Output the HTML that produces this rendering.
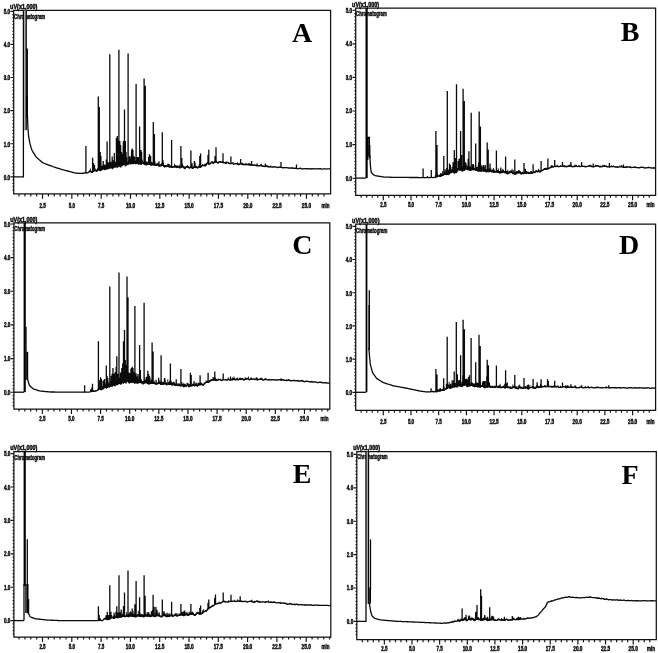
<!DOCTYPE html>
<html><head><meta charset="utf-8"><title>Chromatograms A-F</title>
<style>
html,body{margin:0;padding:0;background:#fff;}
svg{display:block}
.ax path{fill:none;stroke:#111;stroke-width:1.25}
.ax path.tk{stroke-width:1.15}
.tr{fill:none;stroke:#0a0a0a;stroke-width:1.3;stroke-linejoin:miter;stroke-miterlimit:20}
.bd{fill:#111;stroke:none}
.pk{fill:none;stroke:#0a0a0a;stroke-width:1.3}
.tr4{fill:none;stroke:#000;stroke-width:1.45}
.tr2{fill:none;stroke:#000;stroke-width:1.8}
.tr3{fill:none;stroke:#000;stroke-width:2.2}
.lb text{font-family:"Liberation Sans",sans-serif;font-size:6.7px;font-weight:bold;fill:#111;stroke:#111;stroke-width:0.5px}
.lt{font-family:"Liberation Serif",serif;font-weight:bold;font-size:28px;fill:#000}
</style></head><body>
<svg width="658" height="653" viewBox="0 0 658 653">
<rect width="658" height="653" fill="#fff"/>
<g class="ax">
<path d="M13.7 193.9V10.3H330.6V193.9H13.1" />
<path d="M13.7 190.04h-1.3M13.7 186.73h-1.3M13.7 183.42h-1.3M13.7 180.11h-1.3M13.7 176.8h-3.3M13.7 173.49h-1.3M13.7 170.18h-1.3M13.7 166.87h-1.3M13.7 163.56h-1.3M13.7 160.25h-1.3M13.7 156.94h-1.3M13.7 153.63h-1.3M13.7 150.32h-1.3M13.7 147.01h-1.3M13.7 143.7h-3.3M13.7 140.39h-1.3M13.7 137.08h-1.3M13.7 133.77h-1.3M13.7 130.46h-1.3M13.7 127.15h-1.3M13.7 123.84h-1.3M13.7 120.53h-1.3M13.7 117.22h-1.3M13.7 113.91h-1.3M13.7 110.6h-3.3M13.7 107.29h-1.3M13.7 103.98h-1.3M13.7 100.67h-1.3M13.7 97.36h-1.3M13.7 94.05h-1.3M13.7 90.74h-1.3M13.7 87.43h-1.3M13.7 84.12h-1.3M13.7 80.81h-1.3M13.7 77.5h-3.3M13.7 74.19h-1.3M13.7 70.88h-1.3M13.7 67.57h-1.3M13.7 64.26h-1.3M13.7 60.95h-1.3M13.7 57.64h-1.3M13.7 54.33h-1.3M13.7 51.02h-1.3M13.7 47.71h-1.3M13.7 44.4h-3.3M13.7 41.09h-1.3M13.7 37.78h-1.3M13.7 34.47h-1.3M13.7 31.16h-1.3M13.7 27.85h-1.3M13.7 24.54h-1.3M13.7 21.23h-1.3M13.7 17.92h-1.3M13.7 14.61h-1.3M13.7 11.3h-3.3" class="tk"/>
<path d="M19.06 193.9v2.5M24.93 193.9v2.5M30.79 193.9v2.5M36.66 193.9v2.5M42.53 193.9v4.9M48.39 193.9v2.5M54.25 193.9v2.5M60.12 193.9v2.5M65.98 193.9v2.5M71.85 193.9v4.9M77.72 193.9v2.5M83.58 193.9v2.5M89.45 193.9v2.5M95.31 193.9v2.5M101.18 193.9v4.9M107.04 193.9v2.5M112.91 193.9v2.5M118.77 193.9v2.5M124.64 193.9v2.5M130.5 193.9v4.9M136.37 193.9v2.5M142.23 193.9v2.5M148.09 193.9v2.5M153.96 193.9v2.5M159.82 193.9v4.9M165.69 193.9v2.5M171.56 193.9v2.5M177.42 193.9v2.5M183.28 193.9v2.5M189.15 193.9v4.9M195.01 193.9v2.5M200.88 193.9v2.5M206.75 193.9v2.5M212.61 193.9v2.5M218.47 193.9v4.9M224.34 193.9v2.5M230.2 193.9v2.5M236.07 193.9v2.5M241.94 193.9v2.5M247.8 193.9v4.9M253.66 193.9v2.5M259.53 193.9v2.5M265.4 193.9v2.5M271.26 193.9v2.5M277.12 193.9v4.9M282.99 193.9v2.5M288.86 193.9v2.5M294.72 193.9v2.5M300.58 193.9v2.5M306.45 193.9v4.9M312.31 193.9v2.5M318.18 193.9v2.5M324.05 193.9v2.5" class="tk"/>
</g>
<g class="lb">
<text x="10.1" y="179.65" font-size="7.9" text-anchor="end" textLength="6.4" lengthAdjust="spacingAndGlyphs">0.0</text>
<text x="10.1" y="146.55" font-size="7.9" text-anchor="end" textLength="6.4" lengthAdjust="spacingAndGlyphs">1.0</text>
<text x="10.1" y="113.45" font-size="7.9" text-anchor="end" textLength="6.4" lengthAdjust="spacingAndGlyphs">2.0</text>
<text x="10.1" y="80.35" font-size="7.9" text-anchor="end" textLength="6.4" lengthAdjust="spacingAndGlyphs">3.0</text>
<text x="10.1" y="47.25" font-size="7.9" text-anchor="end" textLength="6.4" lengthAdjust="spacingAndGlyphs">4.0</text>
<text x="10.1" y="14.15" font-size="7.9" text-anchor="end" textLength="6.4" lengthAdjust="spacingAndGlyphs">5.0</text>
<text x="42.53" y="208.05" font-size="7.96" text-anchor="middle" textLength="6.2" lengthAdjust="spacingAndGlyphs">2.5</text>
<text x="71.85" y="208.05" font-size="7.96" text-anchor="middle" textLength="6.2" lengthAdjust="spacingAndGlyphs">5.0</text>
<text x="101.18" y="208.05" font-size="7.96" text-anchor="middle" textLength="6.2" lengthAdjust="spacingAndGlyphs">7.5</text>
<text x="130.5" y="208.05" font-size="7.96" text-anchor="middle" textLength="9.2" lengthAdjust="spacingAndGlyphs">10.0</text>
<text x="159.82" y="208.05" font-size="7.96" text-anchor="middle" textLength="9.2" lengthAdjust="spacingAndGlyphs">12.5</text>
<text x="189.15" y="208.05" font-size="7.96" text-anchor="middle" textLength="9.2" lengthAdjust="spacingAndGlyphs">15.0</text>
<text x="218.47" y="208.05" font-size="7.96" text-anchor="middle" textLength="9.2" lengthAdjust="spacingAndGlyphs">17.5</text>
<text x="247.8" y="208.05" font-size="7.96" text-anchor="middle" textLength="9.2" lengthAdjust="spacingAndGlyphs">20.0</text>
<text x="277.12" y="208.05" font-size="7.96" text-anchor="middle" textLength="9.2" lengthAdjust="spacingAndGlyphs">22.5</text>
<text x="306.45" y="208.05" font-size="7.96" text-anchor="middle" textLength="9.2" lengthAdjust="spacingAndGlyphs">25.0</text>
<text x="325.4" y="208.05" font-size="7.96" text-anchor="middle" textLength="8" lengthAdjust="spacingAndGlyphs">min</text>
<text x="10.1" y="8.9" font-size="8.48" textLength="27.36" lengthAdjust="spacingAndGlyphs">uV(x1,000)</text>
<text x="14.1" y="18.91" font-size="8.25" textLength="31.12" lengthAdjust="spacingAndGlyphs">Chromatogram</text>
</g>
<rect x="23.4" y="10.5" width="2.8" height="120" fill="#b4b4b4"/><path class="tr" d="M13.7 176.8H23.4V10.5M26.2 10.5V130"/><path class="tr4" d="M27.2 48.5V112"/><path class="tr2" d="M27 96V118"/>
<path d="M84 172.76H84.9V173.3H84ZM84.85 172.52H85.75V172.84H84.85ZM85.7 172.06H86.6V172.73H85.7ZM86.55 172.56H87.45V172.99H86.55ZM87.4 172.41H88.3V172.83H87.4ZM88.25 171.39H89.15V172.54H88.25ZM89.1 171.29H90V171.99H89.1ZM89.95 168.49H90.85V171.24H89.95ZM90.8 170.85H91.7V171.8H90.8ZM91.65 172.16H92.55V172.77H91.65ZM92.5 170.84H93.4V172.18H92.5ZM93.35 169.2H94.25V171.32H93.35ZM94.2 170.11H95.1V171.13H94.2ZM95.05 169.94H95.95V171.08H95.05ZM95.9 170.35H96.8V171.46H95.9ZM96.75 169.12H97.65V171.49H96.75ZM97.6 167.98H98.5V170.41H97.6ZM98.45 168.34H99.35V170.14H98.45ZM99.3 168.31H100.2V170.84H99.3ZM100.15 168.7H101.05V171.13H100.15ZM101 167.81H101.9V170.59H101ZM101.85 167.24H102.75V170.06H101.85ZM102.7 165.69H103.6V169.16H102.7ZM103.55 164.29H104.45V169.46H103.55ZM104.4 167.08H105.3V170.23H104.4ZM105.25 166.99H106.15V169.74H105.25ZM106.1 167.43H107V169.47H106.1ZM106.95 166.31H107.85V169.53H106.95ZM107.8 166.6H108.7V169.36H107.8ZM108.65 166.7H109.55V168.7H108.65ZM109.5 164.48H110.4V168.68H109.5ZM110.35 164.97H111.25V168.42H110.35ZM111.2 165.12H112.1V168.24H111.2ZM112.05 163.03H112.95V169.29H112.05ZM112.9 163.95H113.8V168.53H112.9ZM113.75 163.92H114.65V167.92H113.75ZM114.6 162.66H115.5V167.58H114.6ZM115.45 163.71H116.35V167.74H115.45ZM116.3 162.97H117.2V167.55H116.3ZM117.15 157.55H118.05V168.05H117.15ZM118 160.78H118.9V167.08H118ZM118.85 161.58H119.75V166.81H118.85ZM119.7 161.87H120.6V167.48H119.7ZM120.55 162.68H121.45V167.48H120.55ZM121.4 163.69H122.3V166.62H121.4ZM122.25 161.19H123.15V165.97H122.25ZM123.1 161.76H124V165.14H123.1ZM123.95 160.4H124.85V165.29H123.95ZM124.8 160.95H125.7V166.41H124.8ZM125.65 162.62H126.55V166.17H125.65ZM126.5 162.06H127.4V165H126.5ZM127.35 161.75H128.25V165.13H127.35ZM128.2 160.58H129.1V164.67H128.2ZM129.05 160.94H129.95V164.13H129.05ZM129.9 158.64H130.8V164.39H129.9ZM130.75 160.88H131.65V164.51H130.75ZM131.6 159.19H132.5V164.06H131.6ZM132.45 158.99H133.35V164.15H132.45ZM133.3 161.76H134.2V164.35H133.3ZM134.15 159.92H135.05V163.82H134.15ZM135 160.42H135.9V164.13H135ZM135.85 160.38H136.75V164.2H135.85ZM136.7 159.72H137.6V163.91H136.7ZM137.55 161.49H138.45V164.3H137.55ZM138.4 159.31H139.3V164.59H138.4ZM139.25 162.24H140.15V164.21H139.25ZM140.1 162.61H141V164.77H140.1ZM140.95 160.3H141.85V164.79H140.95ZM141.8 159.85H142.7V164.1H141.8ZM142.65 161.57H143.55V163.99H142.65ZM143.5 162.03H144.4V164.39H143.5ZM144.35 160.87H145.25V164.5H144.35ZM145.2 162.64H146.1V165.25H145.2ZM146.05 161.43H146.95V165.51H146.05ZM146.9 162.67H147.8V164.7H146.9ZM147.75 161.17H148.65V164.53H147.75ZM148.6 162.9H149.5V164.88H148.6ZM149.45 159.32H150.35V164.81H149.45ZM150.3 161.57H151.2V165.1H150.3ZM151.15 162.09H152.05V165.77H151.15ZM152 162.18H152.9V165.4H152ZM152.85 163.01H153.75V165.32H152.85ZM153.7 161.41H154.6V165.55H153.7ZM154.55 161.29H155.45V165.41H154.55ZM155.4 164.18H156.3V165.57H155.4ZM156.25 163.42H157.15V165.84H156.25ZM157.1 162.79H158V165.42H157.1ZM157.95 163.32H158.85V165.47H157.95ZM158.8 164.47H159.7V166.42H158.8ZM159.65 164.45H160.55V166.37H159.65ZM160.5 163.91H161.4V166.35H160.5ZM161.35 164.38H162.25V166.1H161.35ZM162.2 161.52H163.1V165.6H162.2ZM163.05 162.44H163.95V166H163.05ZM163.9 164.91H164.8V167.16H163.9ZM164.75 165.3H165.65V167.17H164.75ZM165.6 165.24H166.5V166.78H165.6ZM166.45 165.27H167.35V166.91H166.45ZM167.3 163.67H168.2V166.73H167.3ZM168.15 163.66H169.05V166.85H168.15ZM169 164.09H169.9V167.47H169ZM169.85 165.83H170.75V167.17H169.85ZM170.7 164.9H171.6V167.23H170.7ZM171.55 166.03H172.45V167.83H171.55ZM172.4 166.61H173.3V167.63H172.4ZM173.25 166.24H174.15V167.18H173.25ZM174.1 163.76H175V167.35H174.1ZM174.95 165.02H175.85V167.31H174.95ZM175.8 165.23H176.7V167.35H175.8ZM176.65 165.97H177.55V167.78H176.65ZM177.5 165.19H178.4V167.46H177.5ZM178.35 165.94H179.25V167.14H178.35ZM179.2 164.78H180.1V168.01H179.2ZM180.05 167.24H180.95V168.25H180.05ZM180.9 166.06H181.8V167.59H180.9ZM181.75 166.05H182.65V167.3H181.75ZM182.6 165.57H183.5V166.88H182.6ZM183.45 166.2H184.35V167.43H183.45ZM184.3 166.72H185.2V168.73H184.3ZM185.15 166.81H186.05V168.58H185.15ZM186 165.96H186.9V167.47H186ZM186.85 164.99H187.75V167.29H186.85ZM187.7 166.12H188.6V167.6H187.7ZM188.55 166.6H189.45V167.81H188.55ZM189.4 167.39H190.3V168.31H189.4ZM190.25 166.34H191.15V167.86H190.25ZM191.1 165.46H192V167.36H191.1ZM191.95 166.83H192.85V168.17H191.95ZM192.8 165.64H193.7V168.55H192.8ZM193.65 167.05H194.55V167.97H193.65ZM194.5 165.93H195.4V167.79H194.5ZM195.35 165.58H196.25V167.6H195.35ZM196.2 166.34H197.1V167.56H196.2ZM197.05 166.59H197.95V168.18H197.05ZM197.9 166.84H198.8V168.06H197.9ZM198.75 165.28H199.65V167.16H198.75ZM199.6 164.88H200.5V167.41H199.6ZM200.45 166.01H201.35V167.47H200.45ZM201.3 165.55H202.2V166.57H201.3ZM202.15 163.88H203.05V166.04H202.15ZM203 164.98H203.9V165.71H203ZM203.85 164.34H204.75V165.62H203.85ZM204.7 163.5H205.6V166.21H204.7ZM205.55 164.1H206.45V165.89H205.55ZM206.4 163.49H207.3V164.26H206.4ZM207.25 162.03H208.15V163.67H207.25ZM208.1 160.72H209V164.17H208.1ZM208.95 162.9H209.85V164.26H208.95ZM209.8 163.15H210.7V164.15H209.8ZM210.65 161.99H211.55V163.55H210.65ZM211.5 161.16H212.4V162.48H211.5ZM212.35 161.1H213.25V162.82H212.35ZM213.2 162.31H214.1V163.6H213.2ZM214.05 161.42H214.95V162.96H214.05ZM214.9 161.08H215.8V162.24H214.9ZM215.75 160.58H216.65V162.27H215.75ZM216.6 161.56H217.5V162.37H216.6ZM217.45 161.95H218.35V163.08H217.45ZM218.3 161.57H219.2V163.28H218.3ZM219.15 161.01H220.05V162.28H219.15ZM220 160.98H220.9V161.9H220ZM220.85 161.8H221.75V162.45H220.85ZM221.7 161.31H222.6V162.47H221.7ZM222.55 161.23H223.45V162.52H222.55ZM223.4 162.18H224.3V162.9H223.4ZM224.25 162.03H225.15V162.9H224.25ZM225.1 161.63H226V163.16H225.1ZM225.95 161.42H226.85V163.44H225.95ZM226.8 162.17H227.7V162.69H226.8ZM227.65 161.97H228.55V162.5H227.65ZM228.5 162H229.4V163.32H228.5ZM229.35 163.26H230.25V163.68H229.35ZM230.2 163.19H231.1V163.66H230.2ZM231.05 162.99H231.95V163.64H231.05ZM231.9 162.66H232.8V163.27H231.9ZM232.75 162.22H233.65V163.52H232.75ZM233.6 163.23H234.5V164.26H233.6ZM234.45 163.6H235.35V164.01H234.45ZM235.3 162.94H236.2V163.48H235.3ZM236.15 163.36H237.05V163.75H236.15ZM237 162.26H237.9V164.11H237ZM237.85 162.94H238.75V164.48H237.85ZM238.7 164.11H239.6V164.76H238.7ZM239.55 163.63H240.45V164.13H239.55ZM240.4 162.38H241.3V163.6H240.4ZM241.25 162.95H242.15V164.14H241.25ZM242.1 162.83H243V164.51H242.1ZM242.95 163.56H243.85V164.55H242.95ZM243.8 164.03H244.7V164.8H243.8ZM244.65 163.59H245.55V164.61H244.65ZM245.5 163.29H246.4V164.39H245.5ZM246.35 163.59H247.25V164.71H246.35ZM247.2 164.16H248.1V164.66H247.2ZM248.05 163.36H248.95V164.47H248.05ZM248.9 162.81H249.8V164.92H248.9ZM249.75 163.99H250.65V165.09H249.75ZM250.6 163.21H251.5V164.93H250.6ZM251.45 164.77H252.35V165.14H251.45ZM252.3 164.49H253.2V165.16H252.3ZM253.15 164.5H254.05V165.05H253.15ZM254 164.38H254.9V165.38H254ZM254.85 164.92H255.75V165.39H254.85ZM255.7 164.81H256.6V165.15H255.7ZM256.55 165.05H257.45V165.56H256.55ZM257.4 164.95H258.3V165.94H257.4ZM258.25 165.24H259.15V165.88H258.25ZM259.1 165.31H260V165.94H259.1ZM259.95 165.5H260.85V165.78H259.95ZM260.8 163.71H261.7V165.51H260.8ZM261.65 165.02H262.55V165.96H261.65ZM262.5 165.8H263.4V166.42H262.5ZM263.35 165.54H264.25V166.38H263.35ZM264.2 166.05H265.1V166.48H264.2ZM265.05 165.99H265.95V166.46H265.05ZM265.9 165.06H266.8V166.2H265.9ZM266.75 165.43H267.65V166.45H266.75ZM267.6 165.38H268.5V166.76H267.6ZM268.45 166.15H269.35V166.71H268.45ZM269.3 166.13H270.2V166.88H269.3ZM270.15 165.42H271.05V167.02H270.15ZM271 166.33H271.9V166.83H271ZM271.85 166.7H272.75V167.02H271.85ZM272.7 166.09H273.6V167.23H272.7ZM273.55 166.28H274.45V166.99H273.55ZM274.4 166.51H275.3V166.94H274.4ZM275.25 166.53H276.15V167.09H275.25ZM276.1 166.88H277V167.12H276.1ZM276.95 167.2H277.85V167.43H276.95ZM277.8 166.83H278.7V167.64H277.8ZM278.65 166.87H279.55V167.29H278.65ZM279.5 166.76H280.4V167.13H279.5ZM280.35 166.65H281.25V167.32H280.35ZM281.2 167.16H282.1V167.38H281.2ZM282.05 166.91H282.95V167.59H282.05ZM282.9 167.6H283.8V167.82H282.9ZM283.75 167.04H284.65V167.65H283.75ZM284.6 166.98H285.5V167.65H284.6ZM285.45 167.57H286.35V167.83H285.45ZM286.3 167.47H287.2V167.7H286.3ZM287.15 167.37H288.05V167.7H287.15ZM288 167.41H288.9V167.98H288ZM288.85 167.85H289.75V168.03H288.85ZM289.7 167.83H290.6V168.07H289.7ZM290.55 167.65H291.45V168.19H290.55ZM291.4 167.5H292.3V168.06H291.4ZM292.25 167.2H293.15V168.11H292.25ZM293.1 167.87H294V168.39H293.1ZM293.95 167.99H294.85V168.3H293.95ZM294.8 167.93H295.7V168.17H294.8ZM295.65 167.66H296.55V168.37H295.65ZM296.5 168.17H297.4V168.53H296.5ZM297.35 168.48H298.25V168.7H297.35ZM298.2 168.61H299.1V168.8H298.2ZM299.05 168.18H299.95V168.52H299.05ZM299.9 167.44H300.8V168.36H299.9ZM300.75 168.35H301.65V168.66H300.75ZM301.6 168.42H302.5V168.88H301.6ZM302.45 168.46H303.35V168.88H302.45ZM303.3 168.38H304.2V168.86H303.3ZM304.15 168.32H305.05V168.69H304.15ZM305 167.94H305.9V168.66H305ZM305.85 168.63H306.75V168.91H305.85ZM306.7 168.63H307.6V168.89H306.7ZM307.55 168.34H308.45V168.73H307.55ZM308.4 168.47H309.3V168.83H308.4ZM309.25 168.54H310.15V168.94H309.25ZM310.1 168.54H311V168.96H310.1ZM310.95 168.3H311.85V169H310.95ZM311.8 168.67H312.7V168.87H311.8ZM312.65 168.58H313.55V168.75H312.65ZM313.5 168.29H314.4V168.91H313.5ZM314.35 168.65H315.25V168.96H314.35ZM315.2 168.69H316.1V168.83H315.2ZM316.05 168.32H316.95V168.89H316.05ZM316.9 168.74H317.8V168.97H316.9ZM317.75 168.73H318.65V168.96H317.75ZM318.6 168.75H319.5V168.97H318.6ZM319.45 168.67H320.35V168.82H319.45ZM320.3 168.57H321.2V168.68H320.3ZM321.15 168.7H322.05V168.88H321.15ZM322 168.96H322.9V169.08H322ZM322.85 168.88H323.75V169H322.85ZM323.7 168.63H324.6V168.89H323.7ZM324.55 168.71H325.45V168.81H324.55ZM325.4 168.68H326.3V168.79H325.4ZM326.25 168.83H327.15V168.96H326.25ZM327.1 168.8H328V169H327.1ZM327.95 168.69H328.85V168.83H327.95ZM328.8 168.66H329.7V168.82H328.8Z" class="bd"/>
<path d="M27.2 110 27.9 127.24 28.6 136.22 29.3 140.18 30 143.7 30.7 146.15 31.4 148.6 32.1 150.49 32.8 151.64 33.5 152.79 34.2 153.94 34.9 155.09 35.6 156.24 36.3 157.16 37 157.78 37.7 158.39 38.4 159.01 39.1 159.62 39.8 160.24 40.5 160.85 41.2 161.47 41.9 162.08 42.6 162.7 43.3 162.97 44 163.24 44.7 163.51 45.4 163.78 46.1 164.05 46.8 164.32 47.5 164.59 48.2 164.86 48.9 165.13 49.6 165.4 50.3 165.67 51 165.94 51.7 166.21 52.4 166.48 53.1 166.75 53.8 166.99 54.5 167.2 55.2 167.41 55.9 167.63 56.6 167.84 57.3 168.05 58 168.26 58.7 168.47 59.4 168.69 60.1 168.9 60.8 169.11 61.5 169.32 62.2 169.53 62.9 169.75 63.6 169.96 64.3 170.17 65 170.35 65.7 170.53 66.4 170.71 67.1 170.89 67.8 171.07 68.5 171.25 69.2 171.43 69.9 171.61 70.6 171.79 71.3 171.97 72 172.15 72.7 172.33 73.4 172.51 74.1 172.69 74.8 172.87 75.5 173.02 76.2 173.08 76.9 173.14 77.6 173.2 78.3 173.26 79 173.31 79.7 173.37 80.4 173.38 81.1 173.34 81.8 173.31 82.5 173.27 83.2 173.24 83.9 173.2 84.6 172.99 85.3 172.7 86 172.83 86.7 172.99 87.4 172.83 88.1 172.58 88.8 172.21 89.5 171.49 90.2 171.11 90.9 171.77 91.6 172.55 92.3 172.18 93 171.29 93.7 170.87 94.4 170.7 95.1 170.62 95.8 170.96 96.5 171.18 97.2 170.43 97.9 169.46 98.6 169.56 99.3 170.29 100 170.43 100.7 170.09 101.4 169.73 102.1 169.1 102.8 168.38 103.5 168.49 104.2 169.18 104.9 169.2 105.6 168.6 106.3 168.42 107 168.56 107.7 168.23 108.4 167.76 109.1 167.65 109.8 167.45 110.5 167.01 111.2 167.14 111.9 167.77 112.6 167.66 113.3 166.76 114 166.24 114.7 166.29 115.4 166.2 116.1 166.09 116.8 166.23 117.5 166 118.2 165.21 118.9 164.95 119.6 165.57 120.3 165.87 121 165.31 121.7 164.68 122.4 164.29 123.1 163.78 123.8 163.63 124.5 164.27 125.2 164.74 125.9 164.2 126.6 163.46 127.3 163.27 128 163.08 128.7 162.62 129.4 162.58 130.1 162.91 130.8 162.94 131.5 162.7 132.2 162.98 132.9 163.32 133.6 163.02 134.3 162.73 135 163.06 135.7 163.29 136.4 163.02 137.1 163 137.8 163.41 138.5 163.5 139.2 163.37 139.9 163.72 140.6 164.11 141.3 163.7 142 163.14 142.7 163.29 143.4 163.67 144.1 163.74 144.8 164.06 145.5 164.64 146.2 164.58 146.9 163.95 147.6 163.8 148.3 164.09 149 164.06 149.7 164.05 150.4 164.62 151.1 165.06 151.8 164.76 152.5 164.49 153.2 164.75 153.9 164.88 154.6 164.71 155.3 164.93 156 165.32 156.7 165.07 157.4 164.67 158.1 165.09 158.8 165.81 159.5 165.93 160.2 165.77 160.9 165.78 161.6 165.47 162.3 165 163 165.36 163.7 166.37 164.4 166.76 165.1 166.46 165.8 166.39 166.5 166.49 167.2 166.27 167.9 166.22 168.6 166.71 169.3 166.94 170 166.66 170.7 166.73 171.4 167.34 172.1 167.44 172.8 166.96 173.5 166.8 174.2 166.98 174.9 166.88 175.6 166.86 176.3 167.28 177 167.38 177.7 166.85 178.4 166.78 179.1 167.52 179.8 167.92 180.5 167.5 181.2 167.04 181.9 166.81 182.6 166.56 183.3 166.83 184 167.89 184.7 168.52 185.4 167.87 186.1 166.98 186.8 166.88 187.5 167.14 188.2 167.33 188.9 167.73 189.6 168 190.3 167.52 191 167.02 191.7 167.5 192.4 168.2 193.1 168.05 193.8 167.52 194.5 167.41 195.2 167.36 195.9 167.18 196.6 167.48 197.3 167.93 198 167.6 198.7 166.91 199.4 166.96 200.1 167.34 200.8 166.88 201.5 166.07 202.2 165.69 202.9 165.5 203.6 165.33 204.3 165.65 205 166.04 205.7 165.38 206.4 163.97 207.1 163.35 207.8 163.7 208.5 163.99 209.2 163.99 209.9 163.91 210.6 163.33 211.3 162.37 212 162.19 212.7 163.05 213.4 163.36 214.1 162.66 214.8 162.05 215.5 161.99 216.2 162.04 216.9 162.33 217.6 162.99 218.3 163.11 219 162.3 219.7 161.67 220.4 161.98 221.1 162.36 221.8 162.26 222.5 162.32 223.2 162.68 223.9 162.77 224.6 162.79 225.3 163.16 226 163.28 226.7 162.69 227.4 162.3 228.1 162.8 228.8 163.45 229.5 163.58 230.2 163.59 230.9 163.61 231.6 163.34 232.3 163.18 233 163.7 233.7 164.25 234.4 164.01 235.1 163.49 235.8 163.53 236.5 163.89 237.2 164.14 237.9 164.48 238.6 164.75 239.3 164.36 240 163.69 240.7 163.7 241.4 164.24 242.1 164.5 242.8 164.53 243.5 164.72 244.2 164.78 244.9 164.49 245.6 164.41 246.3 164.69 247 164.73 247.7 164.48 248.4 164.6 249.1 165.02 249.8 165.08 250.5 164.94 251.2 165.06 251.9 165.22 252.6 165.08 253.3 165.08 254 165.38 254.7 165.44 255.4 165.19 256.1 165.27 256.8 165.72 257.5 165.94 258.2 165.88 258.9 165.92 259.6 165.91 260.3 165.62 261 165.55 261.7 166 262.4 166.4 263.1 166.4 263.8 166.4 264.5 166.53 265.2 166.41 265.9 166.2 266.6 166.37 267.3 166.7 268 166.75 268.7 166.72 269.4 166.92 270.1 167.03 270.8 166.87 271.5 166.88 272.2 167.16 272.9 167.2 273.6 166.97 274.3 166.92 275 167.06 275.7 167.1 276.4 167.19 277.1 167.5 277.8 167.64 278.5 167.36 279.2 167.12 279.9 167.21 280.6 167.35 281.3 167.39 282 167.57 282.7 167.8 283.4 167.74 284.1 167.6 284.8 167.71 285.5 167.83 286.2 167.72 286.9 167.65 287.6 167.86 288.3 168.03 289 168.02 289.7 168.07 290.4 168.18 291.1 168.12 291.8 168.03 292.5 168.2 293.2 168.4 293.9 168.31 294.6 168.17 295.3 168.26 296 168.45 296.7 168.56 297.4 168.71 298.1 168.81 298.8 168.63 299.5 168.37 300.2 168.43 300.9 168.72 301.6 168.88 302.3 168.88 303 168.88 303.7 168.79 304.4 168.64 305.1 168.69 305.8 168.9 306.5 168.93 307.2 168.77 307.9 168.74 308.6 168.87 309.3 168.94 310 168.95 310.7 169 311.4 168.96 312.1 168.8 312.8 168.76 313.5 168.91 314.2 168.97 314.9 168.87 315.6 168.83 316.3 168.93 317 168.97 317.7 168.96 318.4 168.97 319.1 168.91 319.8 168.74 320.5 168.7 321.2 168.9 321.9 169.08 322.6 169.04 323.3 168.93 324 168.86 324.7 168.79 325.4 168.79 326.1 168.93 326.8 169.03 327.5 168.93 328.2 168.8 328.9 168.83 329.6 168.93 330.3 168.9 330.6 168.9" class="tr"/>
<path d="M116.4 166.44V138M117.2 166.5V136.5M118 165.74V140M119.8 166.05V141M120.6 166V145M121.5 165.13V152M122.3 164.65V154M123.2 164.02V146M124 164.05V142M125.2 165.04V144M126 164.38V152M131.6 163.01V150M132.9 163.62V150M133.8 163.19V156M134.6 163.11V157M140.4 164.36V150M141.6 163.7V152M148.6 164.43V157M149.9 164.46V155.5M150.6 165.11V156M100.2 170.65V152M100.9 170.29V156M112.2 168.16V156.5M93.5 171.24V163M94.5 170.98V165M159 166.22V161.3M85.9 173.1V146M92.6 172.08V157.7M98.3 169.67V96.6M99.3 170.59V107M107.1 168.85V141.5M109.8 167.75V54.3M114.3 166.54V153M117.3 166.45V136M118.2 165.51V142M118.9 165.25V49.8M123.4 163.92V141M124.5 164.57V109.5M125.4 164.98V141M128.1 163.32V53.4M132.2 163.28V148.5M136.1 163.46V84M139.6 163.81V126.4M141 164.26V150M144.1 164.04V78.5M145.3 164.8V85.7M149.4 164.29V154.3M153.3 165.1V122M154.4 165.05V134M162.3 165.3V132.3M171.6 167.76V140M180.9 167.5V146M181.8 167.14V158M190.9 167.34V150.5M199.8 167.54V156M200.6 167.39V153.5M208 164.12V155M208.8 164.3V149.7M215 162.29V156M216 162.33V147.3M223 162.88V153.2M230.9 163.91V156.5M240.6 163.95V158.9M251.6 165.48V161M257 166.13V163.5M261 165.85V164M265.3 166.68V163.5M281 167.67V162M296.5 168.83V164.4M90.04 171.41V170.1M92.05 172.74V171.4M94.3 171.03V167.49M95.13 170.93V168.46M97.94 169.73V168M100.57 170.46V169.13M101.98 169.53V165.86M103.37 168.69V164.33M103.93 169.23V166.34M104.58 169.62V164.93M110.83 167.26V166.05M112.71 167.85V166.77M113.19 167.21V165.5M114.17 166.53V162.48M115.44 166.49V161.96M117.6 166.21V159.51M121.02 165.58V159.94M123.63 163.89V162.24M127 163.6V161.94M129.51 162.93V156.23M129.62 162.98V160.1M130.59 163.3V160.66M135.35 163.55V162.61M137.71 163.66V157.05M138.49 163.8V157.1M140.17 164.23V163.09M141.26 164.03V160.5M141.68 163.63V158.23M144.2 164.06V163M144.89 164.44V162.96M146.04 164.97V163.22M146.95 164.22V162.37M150.08 164.61V163.18M150.71 165.2V162.86M155.24 165.2V163.72M156.72 165.35V163.66M156.75 165.33V163.5M158.95 166.2V164.89M160.22 166.07V165.08M161.58 165.78V163.34M162.86 165.5V159.91M163.18 165.91V164.64M164.18 167.05V166.13M165.19 166.72V164.97M165.59 166.66V165.6M168.17 166.67V164.24M170.62 166.98V165.76M172.38 167.57V166.62M174.38 167.28V166.06M176.98 167.68V165.7M179.38 168.09V166.83M182.33 166.94V163.72M184.39 168.69V166.75M186.21 167.2V166.23M188.59 167.83V166.66M189.2 168.22V167.07M192.02 168.18V163.29M194.37 167.7V161M195.01 167.72V162.62M199.44 167.29V164.09M200.65 167.34V165.87M97.26 170.63V169M98.14 169.65V168.27M101.22 170.13V166.04M103.2 168.61V161.05M104.97 169.45V166.4M104.98 169.44V164.76M105.13 169.32V167.88M105.96 168.72V166.04M106.37 168.73V159.48M107.1 168.85V167.21M107.33 168.78V162.15M107.83 168.43V163.26M108.16 168.19V167.18M108.75 167.97V162.24M108.89 167.96V162.64M110.85 167.27V161.72M112.95 167.54V160.89M112.99 167.49V166.18M113.23 167.16V164.46M113.65 166.7V164.35M117.78 166.01V159.54M117.85 165.93V163.39M118.14 165.57V164.06M118.47 165.28V161.65M119.15 165.41V163.68M119.31 165.57V163.99M119.42 165.68V162.78M120.38 166.14V164.31M120.45 166.11V165.18M120.81 165.81V162.54M121.98 164.82V162.99M123.22 164V160.58M123.66 163.89V162.1M124.19 164.21V160.03M124.61 164.68V160.59M125.08 165.03V163.83M125.67 164.77V160.66M125.73 164.7V162.63M126.16 164.19V157.11M128.28 163.2V161.4M130.03 163.17V157.87M130.26 163.28V160.99M130.37 163.3V157.64M131.2 163.07V155.78M132.41 163.43V159.6M133.43 163.44V160.48M133.51 163.38V160.25M136.37 163.33V162.4M136.39 163.32V157.13M136.49 163.28V157.04M137.35 163.43V157.34M139.69 163.87V160.8M142.05 163.43V160.83M144.07 164.04V155.02M144.12 164.05V162.49M144.76 164.33V158.4M144.97 164.51V163.58M145.2 164.71V161.35M146.27 164.82V162.92M146.63 164.49V162.57M146.96 164.21V162.18M147.02 164.17V161.65M149.8 164.4V162.39M112.98 167.5V160.15M113.91 166.56V162.63M114.46 166.56V161.11M116.36 166.43V165.32M116.44 166.45V159.25M118.51 165.26V161.31M119 165.3V158.65M119.17 165.43V163.58M119.36 165.62V160.91M119.67 165.94V164.32M120.65 165.96V150.32M120.95 165.67V159.26M121.39 165.22V155.31M122.12 164.75V162.89M122.87 164.25V161.54M123.03 164.14V161.6M123.35 163.94V156.2M123.48 163.9V143.6M124.03 164.07V159.2M124.55 164.62V155.33M125.99 164.39V160.02M126.53 163.81V157.13M128.15 163.28V160.42" class="pk"/>
<text class="lt" x="302" y="42.2" text-anchor="middle">A</text>
<g class="ax">
<path d="M355.7 195.3V8H655.6V195.3H355.1" />
<path d="M355.7 191.64h-1.3M355.7 188.28h-1.3M355.7 184.92h-1.3M355.7 181.56h-1.3M355.7 178.2h-3.3M355.7 174.84h-1.3M355.7 171.48h-1.3M355.7 168.12h-1.3M355.7 164.76h-1.3M355.7 161.4h-1.3M355.7 158.04h-1.3M355.7 154.68h-1.3M355.7 151.32h-1.3M355.7 147.96h-1.3M355.7 144.6h-3.3M355.7 141.24h-1.3M355.7 137.88h-1.3M355.7 134.52h-1.3M355.7 131.16h-1.3M355.7 127.8h-1.3M355.7 124.44h-1.3M355.7 121.08h-1.3M355.7 117.72h-1.3M355.7 114.36h-1.3M355.7 111h-3.3M355.7 107.64h-1.3M355.7 104.28h-1.3M355.7 100.92h-1.3M355.7 97.56h-1.3M355.7 94.2h-1.3M355.7 90.84h-1.3M355.7 87.48h-1.3M355.7 84.12h-1.3M355.7 80.76h-1.3M355.7 77.4h-3.3M355.7 74.04h-1.3M355.7 70.68h-1.3M355.7 67.32h-1.3M355.7 63.96h-1.3M355.7 60.6h-1.3M355.7 57.24h-1.3M355.7 53.88h-1.3M355.7 50.52h-1.3M355.7 47.16h-1.3M355.7 43.8h-3.3M355.7 40.44h-1.3M355.7 37.08h-1.3M355.7 33.72h-1.3M355.7 30.36h-1.3M355.7 27h-1.3M355.7 23.64h-1.3M355.7 20.28h-1.3M355.7 16.92h-1.3M355.7 13.56h-1.3M355.7 10.2h-3.3" class="tk"/>
<path d="M361.14 195.3v2.5M366.68 195.3v2.5M372.22 195.3v2.5M377.76 195.3v2.5M383.3 195.3v4.9M388.84 195.3v2.5M394.38 195.3v2.5M399.92 195.3v2.5M405.46 195.3v2.5M411 195.3v4.9M416.54 195.3v2.5M422.08 195.3v2.5M427.62 195.3v2.5M433.16 195.3v2.5M438.7 195.3v4.9M444.24 195.3v2.5M449.78 195.3v2.5M455.32 195.3v2.5M460.86 195.3v2.5M466.4 195.3v4.9M471.94 195.3v2.5M477.48 195.3v2.5M483.02 195.3v2.5M488.56 195.3v2.5M494.1 195.3v4.9M499.64 195.3v2.5M505.18 195.3v2.5M510.72 195.3v2.5M516.26 195.3v2.5M521.8 195.3v4.9M527.34 195.3v2.5M532.88 195.3v2.5M538.42 195.3v2.5M543.96 195.3v2.5M549.5 195.3v4.9M555.04 195.3v2.5M560.58 195.3v2.5M566.12 195.3v2.5M571.66 195.3v2.5M577.2 195.3v4.9M582.74 195.3v2.5M588.28 195.3v2.5M593.82 195.3v2.5M599.36 195.3v2.5M604.9 195.3v4.9M610.44 195.3v2.5M615.98 195.3v2.5M621.52 195.3v2.5M627.06 195.3v2.5M632.6 195.3v4.9M638.14 195.3v2.5M643.68 195.3v2.5M649.22 195.3v2.5" class="tk"/>
</g>
<g class="lb">
<text x="352.1" y="180.68" font-size="6.9" text-anchor="end" textLength="6.4" lengthAdjust="spacingAndGlyphs">0.0</text>
<text x="352.1" y="147.08" font-size="6.9" text-anchor="end" textLength="6.4" lengthAdjust="spacingAndGlyphs">1.0</text>
<text x="352.1" y="113.48" font-size="6.9" text-anchor="end" textLength="6.4" lengthAdjust="spacingAndGlyphs">2.0</text>
<text x="352.1" y="79.88" font-size="6.9" text-anchor="end" textLength="6.4" lengthAdjust="spacingAndGlyphs">3.0</text>
<text x="352.1" y="46.28" font-size="6.9" text-anchor="end" textLength="6.4" lengthAdjust="spacingAndGlyphs">4.0</text>
<text x="352.1" y="12.68" font-size="6.9" text-anchor="end" textLength="6.4" lengthAdjust="spacingAndGlyphs">5.0</text>
<text x="383.3" y="206.65" font-size="6.84" text-anchor="middle" textLength="6.2" lengthAdjust="spacingAndGlyphs">2.5</text>
<text x="411" y="206.65" font-size="6.84" text-anchor="middle" textLength="6.2" lengthAdjust="spacingAndGlyphs">5.0</text>
<text x="438.7" y="206.65" font-size="6.84" text-anchor="middle" textLength="6.2" lengthAdjust="spacingAndGlyphs">7.5</text>
<text x="466.4" y="206.65" font-size="6.84" text-anchor="middle" textLength="9.2" lengthAdjust="spacingAndGlyphs">10.0</text>
<text x="494.1" y="206.65" font-size="6.84" text-anchor="middle" textLength="9.2" lengthAdjust="spacingAndGlyphs">12.5</text>
<text x="521.8" y="206.65" font-size="6.84" text-anchor="middle" textLength="9.2" lengthAdjust="spacingAndGlyphs">15.0</text>
<text x="549.5" y="206.65" font-size="6.84" text-anchor="middle" textLength="9.2" lengthAdjust="spacingAndGlyphs">17.5</text>
<text x="577.2" y="206.65" font-size="6.84" text-anchor="middle" textLength="9.2" lengthAdjust="spacingAndGlyphs">20.0</text>
<text x="604.9" y="206.65" font-size="6.84" text-anchor="middle" textLength="9.2" lengthAdjust="spacingAndGlyphs">22.5</text>
<text x="632.6" y="206.65" font-size="6.84" text-anchor="middle" textLength="9.2" lengthAdjust="spacingAndGlyphs">25.0</text>
<text x="650.4" y="206.65" font-size="6.84" text-anchor="middle" textLength="8" lengthAdjust="spacingAndGlyphs">min</text>
<text x="352.1" y="6.6" font-size="7.4" textLength="27" lengthAdjust="spacingAndGlyphs">uV(x1,000)</text>
<text x="356.1" y="15.8" font-size="7.2" textLength="30.6" lengthAdjust="spacingAndGlyphs">Chromatogram</text>
</g>
<path class="tr" d="M355.7 178.1H365.9"/><path class="tr3" d="M366.6 178.1V8"/><path class="tr4" d="M367.7 160V137.4H369.3V156"/><path class="tr2" d="M369.5 145V158"/>
<path d="M430 177.25H430.9V177.62H430ZM430.85 177.18H431.75V177.42H430.85ZM431.7 177.2H432.6V177.51H431.7ZM432.55 177.25H433.45V177.64H432.55ZM433.4 176.93H434.3V177.38H433.4ZM434.25 176.98H435.15V177.53H434.25ZM435.1 175.08H436V177.72H435.1ZM435.95 175.57H436.85V177.21H435.95ZM436.8 173.22H437.7V176.9H436.8ZM437.65 175.17H438.55V177.12H437.65ZM438.5 174.7H439.4V176.54H438.5ZM439.35 174.47H440.25V176.51H439.35ZM440.2 173.26H441.1V176.83H440.2ZM441.05 173.86H441.95V176.48H441.05ZM441.9 170.9H442.8V175.82H441.9ZM442.75 174.32H443.65V175.83H442.75ZM443.6 172.07H444.5V175.29H443.6ZM444.45 168.9H445.35V174.62H444.45ZM445.3 173.18H446.2V175.12H445.3ZM446.15 168.02H447.05V175.25H446.15ZM447 168.47H447.9V174.89H447ZM447.85 172.67H448.75V175.2H447.85ZM448.7 171.96H449.6V174.76H448.7ZM449.55 169.35H450.45V173.97H449.55ZM450.4 169.88H451.3V173.37H450.4ZM451.25 169.03H452.15V173.29H451.25ZM452.1 166.67H453V172.56H452.1ZM452.95 170.44H453.85V173.04H452.95ZM453.8 165.46H454.7V173.98H453.8ZM454.65 168.71H455.55V173.57H454.65ZM455.5 170.15H456.4V173.07H455.5ZM456.35 168.73H457.25V173.14H456.35ZM457.2 168.32H458.1V171.6H457.2ZM458.05 167.24H458.95V170.57H458.05ZM458.9 158.8H459.8V170.66H458.9ZM459.75 163.81H460.65V170.74H459.75ZM460.6 165.98H461.5V170.62H460.6ZM461.45 166.16H462.35V171.85H461.45ZM462.3 166.2H463.2V171.77H462.3ZM463.15 168.4H464.05V171.07H463.15ZM464 166.72H464.9V170.95H464ZM464.85 166.56H465.75V170.34H464.85ZM465.7 164.27H466.6V169.43H465.7ZM466.55 166.3H467.45V170H466.55ZM467.4 165.54H468.3V170.53H467.4ZM468.25 161.08H469.15V170.27H468.25ZM469.1 168.24H470V170.99H469.1ZM469.95 167.27H470.85V171H469.95ZM470.8 168.34H471.7V170.76H470.8ZM471.65 164.28H472.55V170.28H471.65ZM472.5 164.54H473.4V170.6H472.5ZM473.35 165.04H474.25V170.44H473.35ZM474.2 167.69H475.1V170.12H474.2ZM475.05 164.87H475.95V170.67H475.05ZM475.9 167.62H476.8V171.01H475.9ZM476.75 166.87H477.65V170.81H476.75ZM477.6 168.4H478.5V171.63H477.6ZM478.45 168.99H479.35V171.79H478.45ZM479.3 167.39H480.2V171.38H479.3ZM480.15 168H481.05V171.58H480.15ZM481 165.15H481.9V171.82H481ZM481.85 166.79H482.75V171.15H481.85ZM482.7 169.66H483.6V171.47H482.7ZM483.55 165.68H484.45V171.62H483.55ZM484.4 169.54H485.3V171.49H484.4ZM485.25 170.15H486.15V171.81H485.25ZM486.1 169.26H487V172.51H486.1ZM486.95 169.26H487.85V172.15H486.95ZM487.8 169.7H488.7V172.1H487.8ZM488.65 168.92H489.55V172.38H488.65ZM489.5 170.01H490.4V171.89H489.5ZM490.35 167.77H491.25V171.7H490.35ZM491.2 169.63H492.1V172.22H491.2ZM492.05 169.57H492.95V172.29H492.05ZM492.9 168.06H493.8V172.44H492.9ZM493.75 169.76H494.65V172.82H493.75ZM494.6 170.72H495.5V172.74H494.6ZM495.45 171.03H496.35V172.33H495.45ZM496.3 167.98H497.2V172.4H496.3ZM497.15 170.09H498.05V172.69H497.15ZM498 168.54H498.9V172.51H498ZM498.85 171.05H499.75V173.01H498.85ZM499.7 171.03H500.6V173.54H499.7ZM500.55 170.35H501.45V173.12H500.55ZM501.4 170.58H502.3V173.04H501.4ZM502.25 168.83H503.15V173.1H502.25ZM503.1 169.82H504V172.4H503.1ZM503.95 170.88H504.85V172.43H503.95ZM504.8 171.44H505.7V173.07H504.8ZM505.65 171.67H506.55V173.4H505.65ZM506.5 171.17H507.4V173.66H506.5ZM507.35 169.63H508.25V174.26H507.35ZM508.2 172.82H509.1V173.82H508.2ZM509.05 170.96H509.95V173.13H509.05ZM509.9 170.78H510.8V173.14H509.9ZM510.75 170.4H511.65V172.87H510.75ZM511.6 168.83H512.5V172.65H511.6ZM512.45 172.23H513.35V173.46H512.45ZM513.3 173.17H514.2V174.14H513.3ZM514.15 172.45H515.05V174.14H514.15ZM515 171.95H515.9V174.53H515ZM515.85 172.27H516.75V174.31H515.85ZM516.7 171.18H517.6V173.38H516.7ZM517.55 171.11H518.45V173.06H517.55ZM518.4 169.98H519.3V173.27H518.4ZM519.25 171H520.15V173.03H519.25ZM520.1 171.13H521V173.47H520.1ZM520.95 173.21H521.85V174.2H520.95ZM521.8 171.72H522.7V174.06H521.8ZM522.65 171.72H523.55V173.85H522.65ZM523.5 172.88H524.4V174.06H523.5ZM524.35 172.37H525.25V173.55H524.35ZM525.2 170H526.1V173.08H525.2ZM526.05 171.73H526.95V173.54H526.05ZM526.9 171.77H527.8V173.41H526.9ZM527.75 171.41H528.65V173.22H527.75ZM528.6 172.3H529.5V173.57H528.6ZM529.45 172.5H530.35V173.7H529.45ZM530.3 171.24H531.2V173.28H530.3ZM531.15 171.62H532.05V173.39H531.15ZM532 172H532.9V173.56H532ZM532.85 171.23H533.75V172.95H532.85ZM533.7 171.43H534.6V172.84H533.7ZM534.55 171.73H535.45V172.85H534.55ZM535.4 169.71H536.3V172.05H535.4ZM536.25 170.3H537.15V171.75H536.25ZM537.1 170.57H538V172.05H537.1ZM537.95 168.87H538.85V171.77H537.95ZM538.8 169.85H539.7V171.78H538.8ZM539.65 170.74H540.55V172.2H539.65ZM540.5 170.26H541.4V171.78H540.5ZM541.35 170.34H542.25V171.04H541.35ZM542.2 170.17H543.1V170.88H542.2ZM543.05 169.5H543.95V170.22H543.05ZM543.9 167.92H544.8V169.49H543.9ZM544.75 167.95H545.65V169.62H544.75ZM545.6 167.6H546.5V169.54H545.6ZM546.45 168.37H547.35V169.12H546.45ZM547.3 167.92H548.2V169.19H547.3ZM548.15 168.08H549.05V169.02H548.15ZM549 167.61H549.9V168.21H549ZM549.85 166.7H550.75V167.93H549.85ZM550.7 165.16H551.6V167.81H550.7ZM551.55 164.99H552.45V167.2H551.55ZM552.4 165.85H553.3V167.04H552.4ZM553.25 166.44H554.15V167.14H553.25ZM554.1 165.44H555V166.63H554.1ZM554.95 165.59H555.85V166.3H554.95ZM555.8 166.2H556.7V166.59H555.8ZM556.65 164.73H557.55V166.44H556.65ZM557.5 165.56H558.4V166.34H557.5ZM558.35 166.03H559.25V166.7H558.35ZM559.2 165.99H560.1V166.61H559.2ZM560.05 165.31H560.95V166.29H560.05ZM560.9 165.91H561.8V166.42H560.9ZM561.75 164.8H562.65V166.3H561.75ZM562.6 165.31H563.5V165.98H562.6ZM563.45 165.75H564.35V166.28H563.45ZM564.3 164.89H565.2V166.56H564.3ZM565.15 165.79H566.05V166.45H565.15ZM566 165.82H566.9V166.67H566ZM566.85 166.49H567.75V166.79H566.85ZM567.7 165.28H568.6V166.33H567.7ZM568.55 165.56H569.45V166.17H568.55ZM569.4 164.24H570.3V166.31H569.4ZM570.25 164.98H571.15V166.11H570.25ZM571.1 165.57H572V166.21H571.1ZM571.95 166.15H572.85V166.67H571.95ZM572.8 166.18H573.7V166.6H572.8ZM573.65 165.83H574.55V166.43H573.65ZM574.5 164.51H575.4V166.58H574.5ZM575.35 164.9H576.25V166.35H575.35ZM576.2 164.69H577.1V166.08H576.2ZM577.05 165.9H577.95V166.39H577.05ZM577.9 165.6H578.8V166.52H577.9ZM578.75 165.29H579.65V166.38H578.75ZM579.6 166.24H580.5V166.59H579.6ZM580.45 166H581.35V166.57H580.45ZM581.3 165.06H582.2V166.13H581.3ZM582.15 165.68H583.05V166.16H582.15ZM583 165.99H583.9V166.36H583ZM583.85 166H584.75V166.26H583.85ZM584.7 165.86H585.6V166.53H584.7ZM585.55 166.6H586.45V166.9H585.55ZM586.4 166.06H587.3V166.63H586.4ZM587.25 165.88H588.15V166.38H587.25ZM588.1 165.34H589V166.35H588.1ZM588.95 165.14H589.85V165.98H588.95ZM589.8 164.8H590.7V165.86H589.8ZM590.65 164.77H591.55V166.34H590.65ZM591.5 165.89H592.4V166.57H591.5ZM592.35 166.16H593.25V166.65H592.35ZM593.2 166.62H594.1V166.97H593.2ZM594.05 166.1H594.95V166.8H594.05ZM594.9 164.8H595.8V166.24H594.9ZM595.75 165.11H596.65V166.12H595.75ZM596.6 165.17H597.5V166.04H596.6ZM597.45 164.96H598.35V165.86H597.45ZM598.3 165.52H599.2V166.25H598.3ZM599.15 165.79H600.05V166.71H599.15ZM600 165.55H600.9V166.68H600ZM600.85 165.68H601.75V166.79H600.85ZM601.7 166.24H602.6V166.86H601.7ZM602.55 164.67H603.45V166.41H602.55ZM603.4 165.49H604.3V166.18H603.4ZM604.25 164.66H605.15V166.33H604.25ZM605.1 165.95H606V166.23H605.1ZM605.95 165.42H606.85V166.31H605.95ZM606.8 166.07H607.7V166.77H606.8ZM607.65 166.07H608.55V166.84H607.65ZM608.5 166.55H609.4V166.77H608.5ZM609.35 166.12H610.25V166.99H609.35ZM610.2 166.52H611.1V166.89H610.2ZM611.05 165.29H611.95V166.57H611.05ZM611.9 166.14H612.8V166.66H611.9ZM612.75 165.27H613.65V166.66H612.75ZM613.6 165.94H614.5V166.46H613.6ZM614.45 166.39H615.35V166.7H614.45ZM615.3 166.42H616.2V166.99H615.3ZM616.15 166.29H617.05V166.95H616.15ZM617 166.35H617.9V167.12H617ZM617.85 166.92H618.75V167.29H617.85ZM618.7 166.62H619.6V167H618.7ZM619.55 165.31H620.45V166.84H619.55ZM620.4 166.65H621.3V166.91H620.4ZM621.25 165.09H622.15V166.75H621.25ZM622.1 166.18H623V166.78H622.1ZM622.95 166.74H623.85V167.19H622.95ZM623.8 167.06H624.7V167.29H623.8ZM624.65 166.18H625.55V167.27H624.65ZM625.5 166.66H626.4V167.43H625.5ZM626.35 166.12H627.25V167.27H626.35ZM627.2 166.75H628.1V166.95H627.2ZM628.05 166.8H628.95V167.05H628.05ZM628.9 166.4H629.8V167.15H628.9ZM629.75 165.92H630.65V167.12H629.75ZM630.6 166.67H631.5V167.42H630.6ZM631.45 167.29H632.35V167.62H631.45ZM632.3 167.01H633.2V167.42H632.3ZM633.15 166.69H634.05V167.36H633.15ZM634 166.7H634.9V167.37H634ZM634.85 166.38H635.75V167.16H634.85ZM635.7 166.83H636.6V167.23H635.7ZM636.55 167.1H637.45V167.56H636.55ZM637.4 167.08H638.3V167.62H637.4ZM638.25 167.13H639.15V167.66H638.25ZM639.1 167.54H640V167.79H639.1ZM639.95 167.38H640.85V167.58H639.95ZM640.8 166.42H641.7V167.34H640.8ZM641.65 166.89H642.55V167.43H641.65ZM642.5 167.28H643.4V167.47H642.5ZM643.35 166.51H644.25V167.52H643.35ZM644.2 167.38H645.1V167.85H644.2ZM645.05 167.6H645.95V168H645.05ZM645.9 167.36H646.8V167.87H645.9ZM646.75 167.07H647.65V167.85H646.75ZM647.6 166.88H648.5V167.76H647.6ZM648.45 166.53H649.35V167.53H648.45ZM649.3 167.13H650.2V167.58H649.3ZM650.15 167.35H651.05V167.78H650.15ZM651 167.46H651.9V167.84H651ZM651.85 167.67H652.75V168H651.85ZM652.7 167.36H653.6V168.18H652.7ZM653.55 167.38H654.45V168.07H653.55Z" class="bd"/>
<path d="M369.8 155 370.5 167 371.2 172.25 371.9 173.12 372.6 174 373.3 174.66 374 175.05 374.7 175.43 375.4 175.67 376.1 175.78 376.8 175.9 377.5 176.01 378.2 176.13 378.9 176.24 379.6 176.36 380.3 176.47 381 176.59 381.7 176.7 382.4 176.82 383.1 176.93 383.8 177.01 384.5 177.03 385.2 177.06 385.9 177.08 386.6 177.11 387.3 177.13 388 177.16 388.7 177.18 389.4 177.21 390.1 177.23 390.8 177.25 391.5 177.28 392.2 177.3 392.9 177.33 393.6 177.35 394.3 177.38 395 177.4 395.7 177.4 396.4 177.41 397.1 177.41 397.8 177.41 398.5 177.42 399.2 177.42 399.9 177.43 400.6 177.43 401.3 177.43 402 177.44 402.7 177.44 403.4 177.44 404.1 177.45 404.8 177.45 405.5 177.46 406.2 177.46 406.9 177.46 407.6 177.47 408.3 177.47 409 177.47 409.7 177.48 410.4 177.48 411.1 177.48 411.8 177.49 412.5 177.49 413.2 177.5 413.9 177.5 414.6 177.5 415.3 177.51 416 177.51 416.7 177.51 417.4 177.52 418.1 177.52 418.8 177.53 419.5 177.53 420.2 177.53 420.9 177.54 421.6 177.54 422.3 177.54 423 177.55 423.7 177.55 424.4 177.55 425.1 177.56 425.8 177.56 426.5 177.57 427.2 177.57 427.9 177.57 428.6 177.58 429.3 177.58 430 177.58 430.7 177.45 431.4 177.43 432.1 177.62 432.8 177.59 433.5 177.31 434.2 177.38 434.9 177.57 435.6 177.17 436.3 176.64 437 176.63 437.7 176.65 438.4 176.21 439.1 175.92 439.8 176.19 440.5 176.25 441.2 175.72 441.9 175.28 442.6 175.24 443.3 174.91 444 174.21 444.7 173.97 445.4 174.29 446.1 174.32 446.8 174.02 447.5 174.02 448.2 174.13 448.9 173.55 449.6 172.61 450.3 172.14 451 171.98 451.7 171.55 452.4 171.29 453.1 171.75 453.8 172.27 454.5 172.12 455.2 171.73 455.9 171.56 456.6 171.05 457.3 169.94 458 169.13 458.7 169.08 459.4 169.12 460.1 168.98 460.8 169.41 461.5 170.18 462.2 170.37 462.9 169.87 463.6 169.5 464.3 169.3 465 168.67 465.7 168.03 466.4 168.12 467.1 168.66 467.8 168.86 468.5 168.96 469.2 169.48 469.9 169.87 470.6 169.64 471.3 169.27 472 169.37 472.7 169.44 473.4 169.09 474.1 169 474.8 169.54 475.5 169.93 476.2 169.87 476.9 170.04 477.6 170.61 478.3 170.79 479 170.51 479.7 170.55 480.4 170.89 481.1 170.77 481.8 170.37 482.5 170.47 483.2 170.87 483.9 170.85 484.6 170.71 485.3 171.11 486 171.6 486.7 171.49 487.4 171.25 488.1 171.46 488.8 171.59 489.5 171.22 490.2 171.02 490.9 171.44 491.6 171.79 492.3 171.68 493 171.76 493.7 172.22 494.4 172.27 495.1 171.81 495.8 171.67 496.5 171.97 497.2 172.01 497.9 171.85 498.6 172.22 499.3 172.87 500 172.94 500.7 172.6 501.4 172.6 502.1 172.64 502.8 172.18 503.5 171.77 504.2 172.11 504.9 172.67 505.6 172.82 506.3 173.02 507 173.58 507.7 173.77 508.4 173.21 509.1 172.69 509.8 172.65 510.5 172.5 511.2 172.16 511.9 172.4 512.6 173.23 513.3 173.72 514 173.72 514.7 173.9 515.4 174.1 516.1 173.64 516.8 172.87 517.5 172.67 518.2 172.86 518.9 172.76 519.6 172.71 520.3 173.26 521 173.82 521.7 173.71 522.4 173.46 523.1 173.6 523.8 173.59 524.5 173.07 525.2 172.78 525.9 173.08 526.6 173.23 527.3 172.94 528 172.94 528.7 173.34 529.4 173.4 530.1 173.05 530.8 172.99 531.5 173.28 532.2 173.12 532.9 172.64 533.6 172.56 534.3 172.63 535 172.17 535.7 171.57 536.4 171.57 537.1 171.78 537.8 171.57 538.5 171.41 539.2 171.77 539.9 171.99 540.6 171.45 541.3 170.88 542 170.72 542.7 170.37 543.4 169.63 544.1 169.26 544.8 169.46 545.5 169.44 546.2 169.06 546.9 168.96 547.6 169.1 548.3 168.77 549 168.09 549.7 167.8 550.4 167.79 551.1 167.44 551.8 166.98 552.5 166.98 553.2 167.07 553.9 166.71 554.6 166.29 555.3 166.37 556 166.57 556.7 166.38 557.4 166.29 558.1 166.58 558.8 166.73 559.5 166.46 560.2 166.29 560.9 166.42 561.6 166.36 562.3 166.05 563 166.05 563.7 166.41 564.4 166.56 565.1 166.45 565.8 166.58 566.5 166.82 567.2 166.63 567.9 166.23 568.6 166.18 569.3 166.31 570 166.18 570.7 166.08 571.4 166.39 572.1 166.71 572.8 166.6 573.5 166.43 574.2 166.53 574.9 166.54 575.6 166.22 576.3 166.09 577 166.37 577.7 166.54 578.4 166.41 579.1 166.43 579.8 166.64 580.5 166.55 581.2 166.17 581.9 166.09 582.6 166.3 583.3 166.33 584 166.27 584.7 166.53 585.4 166.87 586.1 166.77 586.8 166.46 587.5 166.38 588.2 166.33 588.9 166 589.6 165.81 590.3 166.12 591 166.49 591.7 166.57 592.4 166.67 593.1 166.95 593.8 166.93 594.5 166.48 595.2 166.14 595.9 166.13 596.6 166.04 597.3 165.86 598 166.05 598.7 166.53 599.4 166.74 600.1 166.68 600.8 166.78 601.5 166.89 602.2 166.63 602.9 166.24 603.6 166.21 604.3 166.34 605 166.25 605.7 166.23 606.4 166.55 607.1 166.86 607.8 166.82 608.5 166.77 609.2 166.96 609.9 166.99 610.6 166.71 611.3 166.56 612 166.68 612.7 166.67 613.4 166.48 614.1 166.55 614.8 166.87 615.5 167 616.2 166.95 616.9 167.08 617.6 167.29 618.3 167.17 619 166.89 619.7 166.85 620.4 166.91 621.1 166.78 621.8 166.71 622.5 166.97 623.2 167.27 623.9 167.28 624.6 167.26 625.3 167.4 626 167.4 626.7 167.11 627.4 166.94 628.1 167.06 628.8 167.15 629.5 167.11 630.2 167.25 630.9 167.54 631.6 167.6 632.3 167.42 633 167.35 633.7 167.39 634.4 167.27 635.1 167.13 635.8 167.27 636.5 167.55 637.2 167.62 637.9 167.61 638.6 167.73 639.3 167.77 640 167.56 640.7 167.35 641.4 167.38 642.1 167.47 642.8 167.46 643.5 167.57 644.2 167.85 644.9 168.01 645.6 167.92 646.3 167.85 647 167.85 647.7 167.73 648.4 167.54 649.1 167.54 649.8 167.71 650.5 167.82 651.2 167.86 651.9 168.02 652.6 168.17 653.3 168.13 654 167.99 654.7 167.97 655.4 167.99 655.6 168" class="tr"/>
<path d="M423.1 177.85V168.6M427.5 177.87V176M431.3 177.72V170M435.9 177.2V131M437 176.93V145M443.8 174.7V156M447.3 174.28V91M449.5 173.02V163.5M454.3 172.52V150M455.3 172V158M456.5 171.46V84.2M460.6 169.52V131M461.6 170.56V155M463.1 170.02V88.8M464.3 169.6V101M468.2 169.18V158.7M471.2 169.59V112.7M475.7 170.24V143.6M479.2 170.76V111.5M480.4 171.19V126.6M483.2 171.17V165M485.2 171.33V165M487.2 171.58V142.4M488.2 171.8V149.5M496.4 172.23V150.5M505.6 173.12V156.4M514.8 174.25V159.6M524 173.77V163M533.1 172.86V164.2M541.1 171.3V161M547.9 169.34V158.6M554.7 166.57V160M562.5 166.29V162M570.9 166.42V162M581.6 166.37V162M593.2 167.27V163.5M609.4 167.3V163M623.4 167.6V164.5M436.14 177.02V175.61M436.52 176.89V173.36M440.98 176.22V173.25M445.73 174.67V171.7M446.11 174.62V170.09M446.97 174.28V172.5M447.22 174.27V170.29M448.53 174.26V169.54M452.09 171.63V170.13M452.09 171.63V169.85M454.45 172.45V171.29M454.87 172.19V171.04M461.87 170.69V167.97M461.89 170.7V168.38M462.39 170.57V169.14M462.63 170.4V166.06M462.87 170.2V168.06M465.82 168.28V164.28M467.11 168.97V166.73M467.24 169.04V166.95M469.01 169.61V166.76M469.06 169.65V165.56M470.21 170.14V166.59M470.67 169.89V166.24M473.36 169.41V163.91M478.35 171.07V169.78M479.93 170.98V168.4M480.61 171.22V170.21M480.67 171.22V167.7M480.71 171.22V170.03M484.2 171.05V166.86M485.3 171.42V169.1M485.43 171.52V170.48M485.61 171.67V168.95M486 171.9V170.81M494.07 172.64V169.85M498.21 172.23V171.15M498.96 172.88V170.88M500.78 172.88V167.38M504.35 172.55V170.97M506.92 173.82V170.89M507.42 174.1V171.79M509.07 173V171.16M510.29 172.89V170.74M510.79 172.65V170.76M511.15 172.47V171.31M512.79 173.72V171.9M513.17 173.98V169.9M514.34 174.06V172.63M514.35 174.07V172.74M514.67 174.19V172.44M515.36 174.41V171.9M516.52 173.44V171.07M517 173.04V171.4M518.48 173.16V170.57M518.96 173.04V170.33M521.23 174.16V172.34M525.38 173.12V168.74M526.19 173.5V172.22M526.39 173.54V170.89M529.47 173.67V172.53M530.78 173.28V171.33M533.92 172.93V171.5M535.13 172.34V171.33M445.75 174.68V169.9M446.53 174.43V170.31M447 174.27V170.82M447.19 174.27V170.49M448.45 174.32V173.25M448.78 174V173.1M449.43 173.11V171.38M450.16 172.49V169.51M450.37 172.43V165.12M450.37 172.43V170.57M450.62 172.38V170.5M450.71 172.36V166.72M452.41 171.59V170.05M453.08 172.03V162.2M454.39 172.48V170.55M455.68 171.91V168.53M456.73 171.16V168.38M459.16 169.44V158.81M459.88 169.3V167.7M461.69 170.62V167.82M463.19 169.97V163.01M463.55 169.81V167.82M463.75 169.76V168.43M466.51 168.5V166.76M469.01 169.61V161.95M469.71 170.13V168.93M472.75 169.72V167.36M473.17 169.52V168.07M476.36 170.16V167.83M476.62 170.21V167.96M476.72 170.25V167.03M477.17 170.55V169.21M478.34 171.08V165.52M478.35 171.07V168.49M478.6 170.98V162.47M479.77 170.89V169.74M483.47 171.22V169.88M484.19 171.05V168.82M484.98 171.16V168.09M487.13 171.6V170.23M487.72 171.6V170.07M487.99 171.71V169.14M488.47 171.89V170.25M489.52 171.51V168.53M489.55 171.49V170.32M490.02 171.31V163.56M453.82 172.57V168.73M453.84 172.58V165.5M454.3 172.52V168.36M455.33 171.99V167.19M455.88 171.87V160.64M456.28 171.67V169.13M457.87 169.52V168.23M458.17 169.36V161.09M458.22 169.35V160.91M459.21 169.44V166.58M459.49 169.4V162.27M461.51 170.48V169.49M462.05 170.7V166.82M462.62 170.4V168.29M462.76 170.28V166.02M464.37 169.56V161.56M465.68 168.34V163.14M465.7 168.33V162.26M468.91 169.52V151.22M471.45 169.55V168.14" class="pk"/>
<text class="lt" x="630" y="40.8" text-anchor="middle">B</text>
<g class="ax">
<path d="M13.9 409.1V222.9H329.8V409.1H13.3" />
<path d="M13.9 405.66h-1.3M13.9 402.29h-1.3M13.9 398.93h-1.3M13.9 395.56h-1.3M13.9 392.2h-3.3M13.9 388.83h-1.3M13.9 385.47h-1.3M13.9 382.11h-1.3M13.9 378.74h-1.3M13.9 375.38h-1.3M13.9 372.01h-1.3M13.9 368.64h-1.3M13.9 365.28h-1.3M13.9 361.91h-1.3M13.9 358.55h-3.3M13.9 355.19h-1.3M13.9 351.82h-1.3M13.9 348.45h-1.3M13.9 345.09h-1.3M13.9 341.72h-1.3M13.9 338.36h-1.3M13.9 335h-1.3M13.9 331.63h-1.3M13.9 328.26h-1.3M13.9 324.9h-3.3M13.9 321.53h-1.3M13.9 318.17h-1.3M13.9 314.81h-1.3M13.9 311.44h-1.3M13.9 308.07h-1.3M13.9 304.71h-1.3M13.9 301.35h-1.3M13.9 297.98h-1.3M13.9 294.62h-1.3M13.9 291.25h-3.3M13.9 287.88h-1.3M13.9 284.52h-1.3M13.9 281.15h-1.3M13.9 277.79h-1.3M13.9 274.42h-1.3M13.9 271.06h-1.3M13.9 267.69h-1.3M13.9 264.33h-1.3M13.9 260.97h-1.3M13.9 257.6h-3.3M13.9 254.24h-1.3M13.9 250.87h-1.3M13.9 247.5h-1.3M13.9 244.14h-1.3M13.9 240.77h-1.3M13.9 237.41h-1.3M13.9 234.04h-1.3M13.9 230.68h-1.3M13.9 227.31h-1.3M13.9 223.95h-3.3" class="tk"/>
<path d="M19.02 409.1v2.5M24.85 409.1v2.5M30.68 409.1v2.5M36.5 409.1v2.5M42.33 409.1v4.9M48.15 409.1v2.5M53.97 409.1v2.5M59.8 409.1v2.5M65.62 409.1v2.5M71.45 409.1v4.9M77.28 409.1v2.5M83.1 409.1v2.5M88.93 409.1v2.5M94.75 409.1v2.5M100.58 409.1v4.9M106.4 409.1v2.5M112.23 409.1v2.5M118.05 409.1v2.5M123.88 409.1v2.5M129.7 409.1v4.9M135.53 409.1v2.5M141.35 409.1v2.5M147.17 409.1v2.5M153 409.1v2.5M158.82 409.1v4.9M164.65 409.1v2.5M170.47 409.1v2.5M176.3 409.1v2.5M182.12 409.1v2.5M187.95 409.1v4.9M193.78 409.1v2.5M199.6 409.1v2.5M205.42 409.1v2.5M211.25 409.1v2.5M217.07 409.1v4.9M222.9 409.1v2.5M228.72 409.1v2.5M234.55 409.1v2.5M240.38 409.1v2.5M246.2 409.1v4.9M252.03 409.1v2.5M257.85 409.1v2.5M263.68 409.1v2.5M269.5 409.1v2.5M275.32 409.1v4.9M281.15 409.1v2.5M286.98 409.1v2.5M292.8 409.1v2.5M298.62 409.1v2.5M304.45 409.1v4.9M310.27 409.1v2.5M316.1 409.1v2.5M321.93 409.1v2.5M327.75 409.1v2.5" class="tk"/>
</g>
<g class="lb">
<text x="10.3" y="394.77" font-size="7.15" text-anchor="end" textLength="6.4" lengthAdjust="spacingAndGlyphs">0.0</text>
<text x="10.3" y="361.12" font-size="7.15" text-anchor="end" textLength="6.4" lengthAdjust="spacingAndGlyphs">1.0</text>
<text x="10.3" y="327.47" font-size="7.15" text-anchor="end" textLength="6.4" lengthAdjust="spacingAndGlyphs">2.0</text>
<text x="10.3" y="293.82" font-size="7.15" text-anchor="end" textLength="6.4" lengthAdjust="spacingAndGlyphs">3.0</text>
<text x="10.3" y="260.17" font-size="7.15" text-anchor="end" textLength="6.4" lengthAdjust="spacingAndGlyphs">4.0</text>
<text x="10.3" y="226.52" font-size="7.15" text-anchor="end" textLength="6.4" lengthAdjust="spacingAndGlyphs">5.0</text>
<text x="42.33" y="421.05" font-size="7.12" text-anchor="middle" textLength="6.2" lengthAdjust="spacingAndGlyphs">2.5</text>
<text x="71.45" y="421.05" font-size="7.12" text-anchor="middle" textLength="6.2" lengthAdjust="spacingAndGlyphs">5.0</text>
<text x="100.58" y="421.05" font-size="7.12" text-anchor="middle" textLength="6.2" lengthAdjust="spacingAndGlyphs">7.5</text>
<text x="129.7" y="421.05" font-size="7.12" text-anchor="middle" textLength="9.2" lengthAdjust="spacingAndGlyphs">10.0</text>
<text x="158.82" y="421.05" font-size="7.12" text-anchor="middle" textLength="9.2" lengthAdjust="spacingAndGlyphs">12.5</text>
<text x="187.95" y="421.05" font-size="7.12" text-anchor="middle" textLength="9.2" lengthAdjust="spacingAndGlyphs">15.0</text>
<text x="217.07" y="421.05" font-size="7.12" text-anchor="middle" textLength="9.2" lengthAdjust="spacingAndGlyphs">17.5</text>
<text x="246.2" y="421.05" font-size="7.12" text-anchor="middle" textLength="9.2" lengthAdjust="spacingAndGlyphs">20.0</text>
<text x="275.32" y="421.05" font-size="7.12" text-anchor="middle" textLength="9.2" lengthAdjust="spacingAndGlyphs">22.5</text>
<text x="304.45" y="421.05" font-size="7.12" text-anchor="middle" textLength="9.2" lengthAdjust="spacingAndGlyphs">25.0</text>
<text x="324.6" y="421.05" font-size="7.12" text-anchor="middle" textLength="8" lengthAdjust="spacingAndGlyphs">min</text>
<text x="10.3" y="221.5" font-size="7.67" textLength="27.09" lengthAdjust="spacingAndGlyphs">uV(x1,000)</text>
<text x="14.3" y="230.9" font-size="7.46" textLength="30.73" lengthAdjust="spacingAndGlyphs">Chromatogram</text>
</g>
<path class="tr" d="M13.9 392.2H24"/><path class="tr3" d="M24.7 392.2V222.9"/><path class="tr" d="M26 326.7V380"/><path class="tr2" d="M27.3 351.8V379"/>
<path d="M90 391.51H90.9V391.86H90ZM90.85 391.07H91.75V391.59H90.85ZM91.7 391.08H92.6V391.36H91.7ZM92.55 390.41H93.45V391.3H92.55ZM93.4 390.41H94.3V391.26H93.4ZM94.25 390.9H95.15V391.3H94.25ZM95.1 390.29H96V391.39H95.1ZM95.95 390.51H96.85V391.19H95.95ZM96.8 390.08H97.7V390.91H96.8ZM97.65 389.37H98.55V390.49H97.65ZM98.5 388.09H99.4V389.69H98.5ZM99.35 387.35H100.25V389.4H99.35ZM100.2 386.76H101.1V389.87H100.2ZM101.05 387.74H101.95V390.16H101.05ZM101.9 385.96H102.8V389.77H101.9ZM102.75 386.8H103.65V389.32H102.75ZM103.6 386.33H104.5V388.67H103.6ZM104.45 386.17H105.35V387.72H104.45ZM105.3 384.4H106.2V387.89H105.3ZM106.15 386.04H107.05V388.77H106.15ZM107 385.44H107.9V388.04H107ZM107.85 383.55H108.75V387.62H107.85ZM108.7 385.55H109.6V387.84H108.7ZM109.55 384.94H110.45V387.15H109.55ZM110.4 382.17H111.3V386.45H110.4ZM111.25 382.37H112.15V386.75H111.25ZM112.1 384.59H113V386.68H112.1ZM112.95 378.96H113.85V385.63H112.95ZM113.8 377.39H114.7V386.12H113.8ZM114.65 383.7H115.55V386.57H114.65ZM115.5 380.16H116.4V385.59H115.5ZM116.35 381.28H117.25V385.24H116.35ZM117.2 381.5H118.1V385.31H117.2ZM118.05 374.25H118.95V384.58H118.05ZM118.9 377.87H119.8V384.03H118.9ZM119.75 380.1H120.65V384.81H119.75ZM120.6 378.06H121.5V384.78H120.6ZM121.45 378.12H122.35V383.65H121.45ZM122.3 378.61H123.2V383.31H122.3ZM123.15 378.29H124.05V384.1H123.15ZM124 377.94H124.9V383.01H124ZM124.85 373.94H125.75V383.13H124.85ZM125.7 379.45H126.6V383.7H125.7ZM126.55 378.43H127.45V382.15H126.55ZM127.4 376.82H128.3V381.62H127.4ZM128.25 379.66H129.15V383.32H128.25ZM129.1 378.91H130V383.75H129.1ZM129.95 376.79H130.85V382.83H129.95ZM130.8 375.61H131.7V383.11H130.8ZM131.65 380.02H132.55V383.27H131.65ZM132.5 377.32H133.4V382.39H132.5ZM133.35 379.41H134.25V382.79H133.35ZM134.2 377.48H135.1V383.88H134.2ZM135.05 380.97H135.95V383.4H135.05ZM135.9 378.85H136.8V383.12H135.9ZM136.75 381.31H137.65V383.87H136.75ZM137.6 379.32H138.5V383.85H137.6ZM138.45 376.27H139.35V383.27H138.45ZM139.3 380.33H140.2V383.1H139.3ZM140.15 380.51H141.05V383.27H140.15ZM141 379.22H141.9V382.83H141ZM141.85 381.87H142.75V383.7H141.85ZM142.7 381.34H143.6V384.54H142.7ZM143.55 381.02H144.45V384.05H143.55ZM144.4 377.23H145.3V383.38H144.4ZM145.25 379.61H146.15V383.18H145.25ZM146.1 381.3H147V383.13H146.1ZM146.95 379.37H147.85V383.5H146.95ZM147.8 381.52H148.7V384.23H147.8ZM148.65 379.81H149.55V384.49H148.65ZM149.5 380.56H150.4V384.25H149.5ZM150.35 381.4H151.25V383.82H150.35ZM151.2 380.25H152.1V383.73H151.2ZM152.05 382.35H152.95V383.85H152.05ZM152.9 381.62H153.8V383.97H152.9ZM153.75 380.63H154.65V383.88H153.75ZM154.6 382.13H155.5V384.27H154.6ZM155.45 382.78H156.35V384.62H155.45ZM156.3 382.16H157.2V384.68H156.3ZM157.15 382.42H158.05V384.33H157.15ZM158 382.42H158.9V384.15H158ZM158.85 380.51H159.75V383.7H158.85ZM159.7 382.09H160.6V383.88H159.7ZM160.55 380.27H161.45V384.65H160.55ZM161.4 381.51H162.3V384.98H161.4ZM162.25 382.62H163.15V384.75H162.25ZM163.1 381.85H164V384.64H163.1ZM163.95 382.54H164.85V384.51H163.95ZM164.8 379.13H165.7V384.02H164.8ZM165.65 382.64H166.55V384.5H165.65ZM166.5 384.09H167.4V385.27H166.5ZM167.35 379.23H168.25V384.75H167.35ZM168.2 382.58H169.1V384.53H168.2ZM169.05 380.73H169.95V385.08H169.05ZM169.9 382.19H170.8V385.11H169.9ZM170.75 380.65H171.65V384.92H170.75ZM171.6 382.11H172.5V385.33H171.6ZM172.45 382.51H173.35V385.47H172.45ZM173.3 381.82H174.2V384.64H173.3ZM174.15 382.28H175.05V385.2H174.15ZM175 383.61H175.9V386.07H175ZM175.85 384.42H176.75V385.66H175.85ZM176.7 383.06H177.6V385.29H176.7ZM177.55 384.53H178.45V386.2H177.55ZM178.4 382.95H179.3V385.81H178.4ZM179.25 383.63H180.15V385.65H179.25ZM180.1 384.92H181V386.42H180.1ZM180.95 383.65H181.85V386.31H180.95ZM181.8 383.71H182.7V385.4H181.8ZM182.65 382.61H183.55V386.19H182.65ZM183.5 383.97H184.4V387.13H183.5ZM184.35 384.99H185.25V386.76H184.35ZM185.2 383.64H186.1V386.45H185.2ZM186.05 385.42H186.95V386.72H186.05ZM186.9 383.9H187.8V385.76H186.9ZM187.75 383.33H188.65V385.55H187.75ZM188.6 384.2H189.5V386.68H188.6ZM189.45 384.5H190.35V387.04H189.45ZM190.3 384.55H191.2V386.18H190.3ZM191.15 384.84H192.05V386.23H191.15ZM192 383.67H192.9V386.19H192ZM192.85 383.73H193.75V385.41H192.85ZM193.7 384.23H194.6V385.65H193.7ZM194.55 382.48H195.45V386.34H194.55ZM195.4 383.49H196.3V385.8H195.4ZM196.25 382.6H197.15V385.83H196.25ZM197.1 384.5H198V386.41H197.1ZM197.95 383.79H198.85V386.12H197.95ZM198.8 383.1H199.7V385.25H198.8ZM199.65 383.33H200.55V385.18H199.65ZM200.5 382H201.4V385.03H200.5ZM201.35 382.89H202.25V384.72H201.35ZM202.2 384.34H203.1V385.28H202.2ZM203.05 384.34H203.95V385.48H203.05ZM203.9 382.45H204.8V384.51H203.9ZM204.75 382.54H205.65V383.57H204.75ZM205.6 380.25H206.5V383.1H205.6ZM206.45 381.29H207.35V382.72H206.45ZM207.3 380.46H208.2V382.71H207.3ZM208.15 381.47H209.05V382.83H208.15ZM209 380.12H209.9V382.31H209ZM209.85 379.78H210.75V381.52H209.85ZM210.7 379.02H211.6V381.06H210.7ZM211.55 379.31H212.45V380.58H211.55ZM212.4 377.26H213.3V380.36H212.4ZM213.25 377.13H214.15V380.27H213.25ZM214.1 377.63H215V380.17H214.1ZM214.95 377.57H215.85V380.41H214.95ZM215.8 378.89H216.7V380.71H215.8ZM216.65 378.81H217.55V380.59H216.65ZM217.5 379.63H218.4V380.26H217.5ZM218.35 378.45H219.25V380.11H218.35ZM219.2 379.06H220.1V379.76H219.2ZM220.05 378.86H220.95V379.86H220.05ZM220.9 379.8H221.8V380.51H220.9ZM221.75 379.47H222.65V380.55H221.75ZM222.6 379.17H223.5V379.97H222.6ZM223.45 379.38H224.35V379.93H223.45ZM224.3 379.56H225.2V380.06H224.3ZM225.15 378.69H226.05V379.84H225.15ZM226 379.26H226.9V380.08H226ZM226.85 379.46H227.75V380.39H226.85ZM227.7 377.24H228.6V379.72H227.7ZM228.55 378.66H229.45V379.38H228.55ZM229.4 379.13H230.3V380.07H229.4ZM230.25 378.01H231.15V380.17H230.25ZM231.1 378.85H232V379.73H231.1ZM231.95 377.46H232.85V380H231.95ZM232.8 377.69H233.7V379.9H232.8ZM233.65 376.55H234.55V379.22H233.65ZM234.5 378.35H235.4V379.51H234.5ZM235.35 378.71H236.25V380.14H235.35ZM236.2 378.25H237.1V379.59H236.2ZM237.05 377.44H237.95V379.37H237.05ZM237.9 379.46H238.8V379.99H237.9ZM238.75 377.71H239.65V379.8H238.75ZM239.6 378.7H240.5V379.27H239.6ZM240.45 377.94H241.35V379.58H240.45ZM241.3 378.15H242.2V379.43H241.3ZM242.15 378.31H243.05V378.81H242.15ZM243 378.59H243.9V379.44H243ZM243.85 379.02H244.75V380.19H243.85ZM244.7 377.12H245.6V379.64H244.7ZM245.55 378.51H246.45V379.19H245.55ZM246.4 378.04H247.3V379.28H246.4ZM247.25 377.79H248.15V378.8H247.25ZM248.1 376.51H249V378.73H248.1ZM248.95 378.76H249.85V379.64H248.95ZM249.8 378.89H250.7V379.78H249.8ZM250.65 377.24H251.55V379.18H250.65ZM251.5 378.53H252.4V379.27H251.5ZM252.35 378.91H253.25V379.39H252.35ZM253.2 378.67H254.1V378.94H253.2ZM254.05 378.47H254.95V379.05H254.05ZM254.9 378.74H255.8V379.52H254.9ZM255.75 377.21H256.65V379.39H255.75ZM256.6 377.58H257.5V379.43H256.6ZM257.45 379.01H258.35V379.93H257.45ZM258.3 379.49H259.2V379.76H258.3ZM259.15 378.64H260.05V379.19H259.15ZM260 378.16H260.9V379.19H260ZM260.85 377.72H261.75V379.38H260.85ZM261.7 377.63H262.6V379.52H261.7ZM262.55 379.27H263.45V379.96H262.55ZM263.4 379.76H264.3V380.17H263.4ZM264.25 379H265.15V379.74H264.25ZM265.1 378.93H266V379.41H265.1ZM265.95 378.6H266.85V379.52H265.95ZM266.8 379.46H267.7V379.7H266.8ZM267.65 379.29H268.55V379.87H267.65ZM268.5 378.76H269.4V380.01H268.5ZM269.35 379.48H270.25V379.96H269.35ZM270.2 379.04H271.1V379.88H270.2ZM271.05 379.29H271.95V379.92H271.05ZM271.9 379.34H272.8V379.94H271.9ZM272.75 379.01H273.65V379.92H272.75ZM273.6 379.62H274.5V379.85H273.6ZM274.45 379.05H275.35V379.78H274.45ZM275.3 379.52H276.2V379.96H275.3ZM276.15 379.81H277.05V380.18H276.15ZM277 379.39H277.9V380.07H277ZM277.85 379.39H278.75V379.91H277.85ZM278.7 379.17H279.6V379.95H278.7ZM279.55 379.31H280.45V379.89H279.55ZM280.4 378.31H281.3V379.93H280.4ZM281.25 378.63H282.15V380.26H281.25ZM282.1 379.31H283V380.23H282.1ZM282.95 379.31H283.85V379.91H282.95ZM283.8 379.85H284.7V380.08H283.8ZM284.65 379.7H285.55V380.4H284.65ZM285.5 380.1H286.4V380.33H285.5ZM286.35 379.36H287.25V380.37H286.35ZM287.2 380.29H288.1V380.5H287.2ZM288.05 379.6H288.95V380.17H288.05ZM288.9 379.19H289.8V380.09H288.9ZM289.75 380.34H290.65V380.64H289.75ZM290.6 380.61H291.5V380.8H290.6ZM291.45 379.95H292.35V380.55H291.45ZM292.3 379.95H293.2V380.69H292.3ZM293.15 379.64H294.05V380.74H293.15ZM294 379.8H294.9V380.42H294ZM294.85 380.12H295.75V380.6H294.85ZM295.7 380.75H296.6V380.98H295.7ZM296.55 380.59H297.45V380.76H296.55ZM297.4 379.63H298.3V380.74H297.4ZM298.25 380.6H299.15V381.21H298.25ZM299.1 380.8H300V381.16H299.1ZM299.95 380.13H300.85V380.81H299.95ZM300.8 380.43H301.7V380.97H300.8ZM301.65 379.76H302.55V381.02H301.65ZM302.5 380.3H303.4V380.88H302.5ZM303.35 380.97H304.25V381.34H303.35ZM304.2 381.6H305.1V381.81H304.2ZM305.05 381.23H305.95V381.5H305.05ZM305.9 380.83H306.8V381.25H305.9ZM306.75 381.14H307.65V381.42H306.75ZM307.6 380.82H308.5V381.36H307.6ZM308.45 381.09H309.35V381.41H308.45ZM309.3 381.34H310.2V381.91H309.3ZM310.15 381.79H311.05V382.02H310.15ZM311 380.8H311.9V381.75H311ZM311.85 381.6H312.75V381.86H311.85ZM312.7 381.55H313.6V382.03H312.7ZM313.55 381.62H314.45V381.84H313.55ZM314.4 381.5H315.3V381.89H314.4ZM315.25 381.94H316.15V382.17H315.25ZM316.1 382.01H317V382.2H316.1ZM316.95 381.97H317.85V382.28H316.95ZM317.8 382.09H318.7V382.56H317.8ZM318.65 381.76H319.55V382.49H318.65ZM319.5 382.08H320.4V382.23H319.5ZM320.35 381.87H321.25V382.31H320.35ZM321.2 381.61H322.1V382.53H321.2ZM322.05 382.21H322.95V382.66H322.05ZM322.9 382.47H323.8V382.84H322.9ZM323.75 382.69H324.65V382.92H323.75ZM324.6 382.32H325.5V382.77H324.6ZM325.45 382.33H326.35V382.73H325.45ZM326.3 382.65H327.2V382.9H326.3ZM327.15 382.75H328.05V383.04H327.15ZM328 382.73H328.9V383.1H328Z" class="bd"/>
<path d="M27.3 378.6 28 380.47 28.7 382.95 29.4 385.39 30.1 386.02 30.8 386.65 31.5 387.29 32.2 387.92 32.9 388.55 33.6 389.06 34.3 389.27 35 389.48 35.7 389.7 36.4 389.91 37.1 390.12 37.8 390.33 38.5 390.55 39.2 390.76 39.9 390.97 40.6 391.06 41.3 391.13 42 391.2 42.7 391.27 43.4 391.34 44.1 391.41 44.8 391.48 45.5 391.55 46.2 391.62 46.9 391.69 47.6 391.76 48.3 391.83 49 391.9 49.7 391.97 50.4 392 51.1 392.01 51.8 392.01 52.5 392.01 53.2 392.02 53.9 392.02 54.6 392.02 55.3 392.03 56 392.03 56.7 392.04 57.4 392.04 58.1 392.04 58.8 392.05 59.5 392.05 60.2 392.05 60.9 392.06 61.6 392.06 62.3 392.06 63 392.07 63.7 392.07 64.4 392.08 65.1 392.08 65.8 392.08 66.5 392.09 67.2 392.09 67.9 392.09 68.6 392.1 69.3 392.1 70 392.11 70.7 392.11 71.4 392.11 72.1 392.12 72.8 392.12 73.5 392.12 74.2 392.13 74.9 392.13 75.6 392.13 76.3 392.14 77 392.14 77.7 392.15 78.4 392.15 79.1 392.15 79.8 392.16 80.5 392.16 81.2 392.16 81.9 392.17 82.6 392.17 83.3 392.18 84 392.18 84.7 392.18 85.4 392.19 86.1 392.19 86.8 392.19 87.5 392.2 88.2 392.17 88.9 392.05 89.6 391.93 90.3 391.77 91 391.54 91.7 391.36 92.4 391.3 93.1 391.28 93.8 391.23 94.5 391.23 95.2 391.22 95.9 391.01 96.6 390.7 97.3 390.36 98 389.81 98.7 389.16 99.4 388.97 100.1 389.37 100.8 389.66 101.5 389.42 102.2 389.01 102.9 388.67 103.6 388.01 104.3 387.19 105 387.04 105.7 387.6 106.4 387.76 107.1 387.15 107.8 386.67 108.5 386.71 109.2 386.46 109.9 385.74 110.6 385.48 111.3 385.82 112 385.62 112.7 384.7 113.4 384.37 114.1 384.92 114.8 385.02 115.5 384.22 116.2 383.69 116.9 383.87 117.6 383.63 118.3 382.79 119 382.6 119.7 383.23 120.4 383.23 121.1 382.21 121.8 381.65 122.5 382.13 123.2 382.32 123.9 381.74 124.6 381.5 125.3 381.85 126 381.53 126.7 380.41 127.4 380.19 128.1 381.24 128.8 381.95 129.5 381.66 130.2 381.49 130.9 381.89 131.6 381.86 132.3 381.22 133 381.21 133.7 382.07 134.4 382.54 135.1 382.17 135.8 382.05 136.5 382.64 137.2 382.9 137.9 382.44 138.6 382.12 139.3 382.31 140 382.31 140.7 382.02 141.4 382.29 142.1 383.18 142.8 383.65 143.5 383.28 144.2 382.73 144.9 382.49 145.6 382.35 146.3 382.32 147 382.74 147.7 383.44 148.4 383.76 149.1 383.56 149.8 383.26 150.5 383.1 151.2 383.03 151.9 383.04 152.6 383.15 153.3 383.23 154 383.31 154.7 383.55 155.4 383.83 156.1 383.89 156.8 383.77 157.5 383.65 158.2 383.43 158.9 383.08 159.6 383.12 160.3 383.78 161 384.39 161.7 384.32 162.4 383.97 163.1 383.92 163.8 383.86 164.5 383.52 165.2 383.54 165.9 384.26 166.6 384.7 167.3 384.25 168 383.83 168.7 384.22 169.4 384.66 170.1 384.44 170.8 384.28 171.5 384.75 172.2 384.98 172.9 384.4 173.6 384.12 174.3 384.88 175 385.54 175.7 385.15 176.4 384.72 177.1 385.17 177.8 385.61 178.5 385.22 179.2 384.98 179.9 385.62 180.6 385.99 181.3 385.32 182 384.88 182.7 385.67 183.4 386.54 184.1 386.35 184.8 385.94 185.5 386.11 186.2 386.07 186.9 385.26 187.6 384.89 188.3 385.77 189 386.62 189.7 386.29 190.4 385.69 191.1 385.78 191.8 385.85 192.5 385.24 193.2 384.85 193.9 385.36 194.6 385.83 195.3 385.49 196 385.21 196.7 385.68 197.4 386.05 198.1 385.56 198.8 384.88 199.5 384.78 200.2 384.79 200.9 384.45 201.6 384.42 202.3 384.93 203 385.14 203.7 384.47 204.4 383.51 205.1 382.95 205.8 382.62 206.5 382.37 207.2 382.34 207.9 382.46 208.6 382.31 209.3 381.75 210 381.15 210.7 380.73 211.4 380.38 212.1 380.08 212.8 380.07 213.5 379.98 214.2 379.93 214.9 380.14 215.6 380.47 216.3 380.5 217 380.24 217.7 380.04 218.4 379.9 219.1 379.65 219.8 379.58 220.5 380.04 221.2 380.52 221.9 380.33 222.6 379.81 223.3 379.73 224 379.94 224.7 379.85 225.4 379.7 226.1 380.02 226.8 380.28 227.5 379.81 228.2 379.24 228.9 379.5 229.6 380.1 230.3 380.06 231 379.68 231.7 379.78 232.4 379.99 233.1 379.55 233.8 379.07 234.5 379.44 235.2 380.02 235.9 379.79 236.6 379.25 237.3 379.47 238 379.98 238.7 379.77 239.4 379.26 240.1 379.36 240.8 379.61 241.5 379.2 242.2 378.77 242.9 379.27 243.6 380.07 244.3 379.98 245 379.35 245.7 379.19 246.4 379.26 247.1 378.9 247.8 378.6 248.5 379.12 249.2 379.82 249.9 379.71 250.6 379.2 251.3 379.19 252 379.43 252.7 379.22 253.4 378.88 254.1 379.08 254.8 379.49 255.5 379.47 256.2 379.32 256.9 379.61 257.6 379.97 258.3 379.76 259 379.26 259.7 379.12 260.4 379.3 261.1 379.41 261.8 379.56 262.5 379.93 263.2 380.18 263.9 379.96 264.6 379.55 265.3 379.41 266 379.53 266.7 379.68 267.4 379.82 268.1 379.96 268.8 380.01 269.5 379.94 270.2 379.88 270.9 379.91 271.6 379.94 272.3 379.93 273 379.9 273.7 379.84 274.4 379.78 275.1 379.9 275.8 380.12 276.5 380.18 277.2 380.02 277.9 379.91 278.6 379.94 279.3 379.92 280 379.86 280.7 380.04 281.4 380.29 282.1 380.23 282.8 379.95 283.5 379.96 284.2 380.27 284.9 380.41 285.6 380.32 286.3 380.36 287 380.5 287.7 380.34 288.4 380.05 289.1 380.19 289.8 380.67 290.5 380.82 291.2 380.6 291.9 380.58 292.6 380.77 293.3 380.69 294 380.42 294.7 380.52 295.4 380.9 296.1 380.93 296.8 380.69 297.5 380.79 298.2 381.19 298.9 381.24 299.6 380.91 300.3 380.83 301 381.02 301.7 381.01 302.4 380.87 303.1 381.14 303.8 381.67 304.5 381.77 305.2 381.41 305.9 381.25 306.6 381.39 307.3 381.41 308 381.32 308.7 381.54 309.4 381.96 310.1 382.04 310.8 381.8 311.5 381.76 312.2 381.98 312.9 382 313.6 381.83 314.3 381.86 315 382.1 315.7 382.22 316.4 382.19 317.1 382.33 317.8 382.56 318.5 382.53 319.2 382.29 319.9 382.22 320.6 382.38 321.3 382.55 322 382.65 322.7 382.79 323.4 382.92 324.1 382.87 324.8 382.74 325.5 382.74 326.2 382.88 326.9 383.01 327.6 383.07 328.3 383.12 329 383.14 329.7 383.19 329.8 383.2" class="tr"/>
<path d="M121.8 381.95V368M126 381.83V365M131.4 382.26V368M133 381.51V368M133.8 382.49V372M147.8 383.82V375M149.4 383.72V376M140.4 382.43V370M101.4 389.77V379M99.2 389.25V380M107 387.55V376M107.8 386.97V378M112.1 385.81V374M112.9 384.8V373M115.6 384.39V372M113.9 385.04V374M84.6 392.48V385.2M92.5 391.6V383.8M98.4 389.72V341.3M100.6 389.93V377.2M106.3 388.1V365.5M109.8 386.14V286.5M111.3 386.12V376M114.8 385.32V372.7M116.8 384.14V356.3M119 382.9V272.6M122.7 382.57V363.5M123.5 382.42V341.2M124.5 381.78V330M125.3 382.15V360M127 380.38V276.4M128 381.37V297.3M132.2 381.61V366.8M134.9 382.61V306M139.6 382.67V345M144.1 383.09V302.7M148.6 384.04V374M152.1 383.37V342.5M153.1 383.52V351.5M161.1 384.73V355.2M170.4 384.6V363.5M180.9 386.09V369M190.4 385.99V372.7M191.2 386.12V375M200.1 385.12V375.2M208.1 382.76V372.7M214.8 380.39V371.5M223.2 380.01V373.5M230.5 380.24V376.5M240.2 379.71V377.7M251.1 379.43V377.7M257 379.97V378M261.1 379.71V378M265.3 379.71V378M90.69 391.94V389.19M91.94 391.63V387.2M92.89 391.59V390.58M99.81 389.47V386.79M100.03 389.62V388.1M101.16 389.89V388.94M103.38 388.57V387.49M103.8 388.07V386.54M106.22 388.11V386.13M106.53 387.99V386.49M107.36 387.2V383.99M113.77 384.92V382.64M113.96 385.09V383.85M114 385.13V383.29M115.61 384.38V382.89M119.24 383.09V381.52M120.21 383.66V382.5M122.24 382.2V377.85M122.96 382.67V380.84M123.03 382.67V380.67M124.18 381.84V375.94M126.64 380.8V378.95M126.67 380.76V379.59M126.94 380.43V378.08M127.64 380.78V377.61M127.74 380.93V379.79M128.62 382.18V378.87M130.52 381.95V378.86M130.89 382.18V381.13M131.38 382.27V378.95M135.41 382.32V381.09M136.4 382.84V381.78M136.91 383.2V381.73M140.31 382.47V380.53M141.12 382.37V380.73M144.92 382.79V380.37M147.23 383.27V380.73M147.78 383.8V382.79M147.9 383.89V382.18M148.82 383.98V383.04M148.84 383.97V380.76M152.83 383.49V377.59M153.53 383.55V382.33M156.08 384.2V379.67M158.62 383.51V377.84M160.83 384.6V382.63M161.17 384.74V383.8M161.37 384.74V382.37M162.21 384.34V381.93M164.51 383.81V377.91M166.64 385V382.4M168.54 384.38V382.19M168.82 384.63V383.31M169.67 384.94V382.99M173.16 384.48V383.35M176.23 385.05V379.15M179.68 385.67V384.73M181.28 385.64V382.11M183.32 386.8V385.58M184.5 386.35V383.8M184.6 386.3V384.48M187.27 385.21V382.77M188.81 386.79V385.58M189.03 386.93V384.45M189.48 386.8V384.24M193.44 385.24V384.23M194.01 385.77V381.36M198.21 385.74V383.14M198.38 385.55V382.79M202.75 385.46V383.66M203.22 385.31V383.9M207.31 382.65V380.89M100.58 389.92V380.94M101.01 389.94V383.06M102.36 389.24V388.18M102.58 389.14V387.73M102.79 389.03V385.9M103.02 388.88V386.85M103.13 388.8V380.79M103.47 388.47V386.21M104.14 387.65V379.84M104.56 387.32V379.03M105.1 387.4V384.67M106.11 388.11V387.16M106.12 388.11V382.67M106.26 388.1V385.75M107.26 387.29V384.39M107.56 387.06V384.43M108.18 386.97V381.76M108.27 386.98V384.05M108.49 387.01V385.67M109.63 386.32V383.76M110.26 385.8V380.93M112.14 385.76V383.59M112.86 384.83V382.27M113.42 384.68V380.6M113.88 385.02V382.28M114.38 385.39V376M115.3 384.77V377.78M117.5 384.03V382.76M118.13 383.29V373.81M119.64 383.48V381.31M119.7 383.53V382.35M119.75 383.57V379.73M120.93 382.77V375.2M121.06 382.57V378.24M123.54 382.38V371.11M123.73 382.2V372.15M124.12 381.87V379.43M127.65 380.8V374.78M127.79 381.01V378.9M128.35 381.91V380.29M128.52 382.1V380.57M130.12 381.77V379.61M130.14 381.77V380.18M130.89 382.18V379.59M130.94 382.21V369.11M132.13 381.67V369.96M132.22 381.59V380.3M132.25 381.56V376.43M132.91 381.44V373.39M134.23 382.82V381.56M134.35 382.84V374.49M135 382.54V378.38M135.97 382.46V380.39M136.03 382.5V373.29M136.8 383.15V377.68M136.87 383.18V376.68M136.92 383.2V376.54M137.39 383.12V381.5M138.01 382.65V373.99M138.83 382.45V381.28M138.95 382.49V381.47M139.24 382.59V381.13M140.34 382.46V381.06M140.87 382.31V381.38M142.44 383.82V380.95M142.6 383.91V381.55M146.01 382.59V380.48M146.54 382.7V376.64M146.92 382.97V380.41M147.82 383.83V370.73M148.14 384.01V377.99M149.08 383.87V380.33M149.48 383.68V382.02M149.58 383.64V379.02M149.88 383.54V377.35M151.45 383.32V379.47M112.28 385.58V383.89M112.57 385.18V381.8M112.71 385V381.74M112.96 384.75V368.12M115.96 384.07V379.81M116.19 384V366.84M116.5 384.04V381.53M116.5 384.04V381.33M117.04 384.19V380.4M117.23 384.17V380.36M117.23 384.17V382.34M117.31 384.14V381.29M117.65 383.89V382.26M118.38 383.01V378.94M119.54 383.39V377.73M120.59 383.31V372.45M121 382.67V380.39M124.48 381.77V380.67M125.56 382.17V376.71M125.59 382.16V372.84M127.45 380.54V375.3M128.55 382.13V373.46M128.68 382.21V378.2M129.26 382.11V372.81M130.62 382.01V372.96" class="pk"/>
<text class="lt" x="302.4" y="254.4" text-anchor="middle">C</text>
<g class="ax">
<path d="M355.7 410.3V224.2H655.6V410.3H355.1" />
<path d="M355.7 405.58h-1.3M355.7 402.26h-1.3M355.7 398.94h-1.3M355.7 395.62h-1.3M355.7 392.3h-3.3M355.7 388.98h-1.3M355.7 385.66h-1.3M355.7 382.34h-1.3M355.7 379.02h-1.3M355.7 375.7h-1.3M355.7 372.38h-1.3M355.7 369.06h-1.3M355.7 365.74h-1.3M355.7 362.42h-1.3M355.7 359.1h-3.3M355.7 355.78h-1.3M355.7 352.46h-1.3M355.7 349.14h-1.3M355.7 345.82h-1.3M355.7 342.5h-1.3M355.7 339.18h-1.3M355.7 335.86h-1.3M355.7 332.54h-1.3M355.7 329.22h-1.3M355.7 325.9h-3.3M355.7 322.58h-1.3M355.7 319.26h-1.3M355.7 315.94h-1.3M355.7 312.62h-1.3M355.7 309.3h-1.3M355.7 305.98h-1.3M355.7 302.66h-1.3M355.7 299.34h-1.3M355.7 296.02h-1.3M355.7 292.7h-3.3M355.7 289.38h-1.3M355.7 286.06h-1.3M355.7 282.74h-1.3M355.7 279.42h-1.3M355.7 276.1h-1.3M355.7 272.78h-1.3M355.7 269.46h-1.3M355.7 266.14h-1.3M355.7 262.82h-1.3M355.7 259.5h-3.3M355.7 256.18h-1.3M355.7 252.86h-1.3M355.7 249.54h-1.3M355.7 246.22h-1.3M355.7 242.9h-1.3M355.7 239.58h-1.3M355.7 236.26h-1.3M355.7 232.94h-1.3M355.7 229.62h-1.3M355.7 226.3h-3.3" class="tk"/>
<path d="M361.14 410.3v2.5M366.68 410.3v2.5M372.22 410.3v2.5M377.76 410.3v2.5M383.3 410.3v4.9M388.84 410.3v2.5M394.38 410.3v2.5M399.92 410.3v2.5M405.46 410.3v2.5M411 410.3v4.9M416.54 410.3v2.5M422.08 410.3v2.5M427.62 410.3v2.5M433.16 410.3v2.5M438.7 410.3v4.9M444.24 410.3v2.5M449.78 410.3v2.5M455.32 410.3v2.5M460.86 410.3v2.5M466.4 410.3v4.9M471.94 410.3v2.5M477.48 410.3v2.5M483.02 410.3v2.5M488.56 410.3v2.5M494.1 410.3v4.9M499.64 410.3v2.5M505.18 410.3v2.5M510.72 410.3v2.5M516.26 410.3v2.5M521.8 410.3v4.9M527.34 410.3v2.5M532.88 410.3v2.5M538.42 410.3v2.5M543.96 410.3v2.5M549.5 410.3v4.9M555.04 410.3v2.5M560.58 410.3v2.5M566.12 410.3v2.5M571.66 410.3v2.5M577.2 410.3v4.9M582.74 410.3v2.5M588.28 410.3v2.5M593.82 410.3v2.5M599.36 410.3v2.5M604.9 410.3v4.9M610.44 410.3v2.5M615.98 410.3v2.5M621.52 410.3v2.5M627.06 410.3v2.5M632.6 410.3v4.9M638.14 410.3v2.5M643.68 410.3v2.5M649.22 410.3v2.5" class="tk"/>
</g>
<g class="lb">
<text x="352.1" y="395.19" font-size="8.03" text-anchor="end" textLength="6.4" lengthAdjust="spacingAndGlyphs">0.0</text>
<text x="352.1" y="361.99" font-size="8.03" text-anchor="end" textLength="6.4" lengthAdjust="spacingAndGlyphs">1.0</text>
<text x="352.1" y="328.79" font-size="8.03" text-anchor="end" textLength="6.4" lengthAdjust="spacingAndGlyphs">2.0</text>
<text x="352.1" y="295.59" font-size="8.03" text-anchor="end" textLength="6.4" lengthAdjust="spacingAndGlyphs">3.0</text>
<text x="352.1" y="262.39" font-size="8.03" text-anchor="end" textLength="6.4" lengthAdjust="spacingAndGlyphs">4.0</text>
<text x="352.1" y="229.19" font-size="8.03" text-anchor="end" textLength="6.4" lengthAdjust="spacingAndGlyphs">5.0</text>
<text x="383.3" y="424.3" font-size="8.1" text-anchor="middle" textLength="6.2" lengthAdjust="spacingAndGlyphs">2.5</text>
<text x="411" y="424.3" font-size="8.1" text-anchor="middle" textLength="6.2" lengthAdjust="spacingAndGlyphs">5.0</text>
<text x="438.7" y="424.3" font-size="8.1" text-anchor="middle" textLength="6.2" lengthAdjust="spacingAndGlyphs">7.5</text>
<text x="466.4" y="424.3" font-size="8.1" text-anchor="middle" textLength="9.2" lengthAdjust="spacingAndGlyphs">10.0</text>
<text x="494.1" y="424.3" font-size="8.1" text-anchor="middle" textLength="9.2" lengthAdjust="spacingAndGlyphs">12.5</text>
<text x="521.8" y="424.3" font-size="8.1" text-anchor="middle" textLength="9.2" lengthAdjust="spacingAndGlyphs">15.0</text>
<text x="549.5" y="424.3" font-size="8.1" text-anchor="middle" textLength="9.2" lengthAdjust="spacingAndGlyphs">17.5</text>
<text x="577.2" y="424.3" font-size="8.1" text-anchor="middle" textLength="9.2" lengthAdjust="spacingAndGlyphs">20.0</text>
<text x="604.9" y="424.3" font-size="8.1" text-anchor="middle" textLength="9.2" lengthAdjust="spacingAndGlyphs">22.5</text>
<text x="632.6" y="424.3" font-size="8.1" text-anchor="middle" textLength="9.2" lengthAdjust="spacingAndGlyphs">25.0</text>
<text x="650.4" y="424.3" font-size="8.1" text-anchor="middle" textLength="8" lengthAdjust="spacingAndGlyphs">min</text>
<text x="352.1" y="222.8" font-size="8.61" textLength="27.41" lengthAdjust="spacingAndGlyphs">uV(x1,000)</text>
<text x="356.1" y="232.92" font-size="8.38" textLength="31.19" lengthAdjust="spacingAndGlyphs">Chromatogram</text>
</g>
<path class="tr" d="M355.7 392.3H365.9"/><path class="tr2" d="M366.5 392.3V224.2"/><path class="tr" d="M369.3 290.3V350"/><path class="tr4" d="M369.2 305V350"/>
<path d="M430 391.24H430.9V391.87H430ZM430.85 391.28H431.75V391.72H430.85ZM431.7 391.13H432.6V391.64H431.7ZM432.55 390.73H433.45V391.52H432.55ZM433.4 391.23H434.3V391.8H433.4ZM434.25 391.3H435.15V391.88H434.25ZM435.1 390.27H436V391.56H435.1ZM435.95 390.36H436.85V391.98H435.95ZM436.8 390.78H437.7V392.07H436.8ZM437.65 390.47H438.55V391.05H437.65ZM438.5 389.67H439.4V391.03H438.5ZM439.35 388.5H440.25V391.4H439.35ZM440.2 389.96H441.1V391.09H440.2ZM441.05 389.16H441.95V390.85H441.05ZM441.9 388.96H442.8V390.8H441.9ZM442.75 386.54H443.65V390.47H442.75ZM443.6 386.43H444.5V390.76H443.6ZM444.45 388.74H445.35V390.32H444.45ZM445.3 388.12H446.2V389.3H445.3ZM446.15 384.89H447.05V389.29H446.15ZM447 386.2H447.9V389.1H447ZM447.85 384.86H448.75V388.02H447.85ZM448.7 381.79H449.6V388.1H448.7ZM449.55 386.33H450.45V388.97H449.55ZM450.4 385.84H451.3V388.6H450.4ZM451.25 384.6H452.15V388.57H451.25ZM452.1 385.74H453V388.1H452.1ZM452.95 385.53H453.85V387.54H452.95ZM453.8 383.2H454.7V387.8H453.8ZM454.65 383.32H455.55V387.52H454.65ZM455.5 384.97H456.4V387.03H455.5ZM456.35 382.72H457.25V387.81H456.35ZM457.2 382.45H458.1V387.38H457.2ZM458.05 380.44H458.95V386.5H458.05ZM458.9 383.48H459.8V386.35H458.9ZM459.75 383.69H460.65V386.78H459.75ZM460.6 381.78H461.5V386.99H460.6ZM461.45 384.33H462.35V387.19H461.45ZM462.3 383.99H463.2V386.81H462.3ZM463.15 382.61H464.05V386.12H463.15ZM464 383.03H464.9V386.01H464ZM464.85 382.27H465.75V385.49H464.85ZM465.7 379.26H466.6V385.33H465.7ZM466.55 380.49H467.45V386.55H466.55ZM467.4 380.85H468.3V387.32H467.4ZM468.25 383.59H469.15V386.59H468.25ZM469.1 384.74H470V386.45H469.1ZM469.95 384.59H470.85V386.4H469.95ZM470.8 382.62H471.7V385.74H470.8ZM471.65 382.68H472.55V386.08H471.65ZM472.5 383.91H473.4V386.45H472.5ZM473.35 383.64H474.25V386.88H473.35ZM474.2 384.35H475.1V387.27H474.2ZM475.05 383.57H475.95V386.93H475.05ZM475.9 382.88H476.8V386.16H475.9ZM476.75 383.94H477.65V387.09H476.75ZM477.6 386.04H478.5V387.54H477.6ZM478.45 384.06H479.35V387.02H478.45ZM479.3 385.61H480.2V387.48H479.3ZM480.15 382H481.05V387.63H480.15ZM481 385.03H481.9V386.88H481ZM481.85 385.42H482.75V386.73H481.85ZM482.7 385.49H483.6V386.84H482.7ZM483.55 384.53H484.45V387.23H483.55ZM484.4 386.19H485.3V388.2H484.4ZM485.25 384.86H486.15V387.95H485.25ZM486.1 384.99H487V387.26H486.1ZM486.95 385.88H487.85V387.6H486.95ZM487.8 385.87H488.7V387.54H487.8ZM488.65 382.27H489.55V386.69H488.65ZM489.5 385.11H490.4V387.19H489.5ZM490.35 385.89H491.25V387.73H490.35ZM491.2 386.27H492.1V387.63H491.2ZM492.05 386.02H492.95V387.63H492.05ZM492.9 386.45H493.8V387.62H492.9ZM493.75 385.95H494.65V387.59H493.75ZM494.6 385.56H495.5V388.09H494.6ZM495.45 386.24H496.35V387.58H495.45ZM496.3 385.92H497.2V386.93H496.3ZM497.15 386.38H498.05V387.52H497.15ZM498 386.46H498.9V387.81H498ZM498.85 385.27H499.75V387.18H498.85ZM499.7 383.75H500.6V387.72H499.7ZM500.55 386.35H501.45V388.11H500.55ZM501.4 386.6H502.3V387.83H501.4ZM502.25 386.29H503.15V387.84H502.25ZM503.1 385.47H504V387.67H503.1ZM503.95 383.76H504.85V387.7H503.95ZM504.8 386.33H505.7V388.29H504.8ZM505.65 385.68H506.55V387.84H505.65ZM506.5 384.46H507.4V387.21H506.5ZM507.35 387.06H508.25V387.8H507.35ZM508.2 386.53H509.1V388.02H508.2ZM509.05 386.77H509.95V387.57H509.05ZM509.9 386.36H510.8V388.26H509.9ZM510.75 387.43H511.65V388.76H510.75ZM511.6 386.49H512.5V388.44H511.6ZM512.45 384.49H513.35V388.11H512.45ZM513.3 385.98H514.2V387.47H513.3ZM514.15 385.53H515.05V387.29H514.15ZM515 385.91H515.9V388.16H515ZM515.85 386.46H516.75V388.31H515.85ZM516.7 386.34H517.6V388.26H516.7ZM517.55 388.16H518.45V389.04H517.55ZM518.4 387.23H519.3V388.78H518.4ZM519.25 384.54H520.15V387.79H519.25ZM520.1 386.56H521V387.9H520.1ZM520.95 387.06H521.85V388.25H520.95ZM521.8 386.48H522.7V388.39H521.8ZM522.65 387.76H523.55V388.64H522.65ZM523.5 387.12H524.4V388.27H523.5ZM524.35 386.58H525.25V387.95H524.35ZM525.2 385.97H526.1V388.38H525.2ZM526.05 387.32H526.95V388.07H526.05ZM526.9 386.22H527.8V388H526.9ZM527.75 387.69H528.65V389.09H527.75ZM528.6 388.13H529.5V389.09H528.6ZM529.45 385.05H530.35V388.11H529.45ZM530.3 387.15H531.2V387.85H530.3ZM531.15 386.57H532.05V387.69H531.15ZM532 386.2H532.9V387.58H532ZM532.85 386.63H533.75V388.07H532.85ZM533.7 387.61H534.6V388.22H533.7ZM534.55 387.44H535.45V388.32H534.55ZM535.4 386.6H536.3V388.55H535.4ZM536.25 385H537.15V387.63H536.25ZM537.1 386.28H538V386.84H537.1ZM537.95 386.71H538.85V387.47H537.95ZM538.8 386.62H539.7V387.6H538.8ZM539.65 385.85H540.55V387.16H539.65ZM540.5 386.42H541.4V387.34H540.5ZM541.35 384.97H542.25V387.33H541.35ZM542.2 386.03H543.1V387.01H542.2ZM543.05 385.93H543.95V387.05H543.05ZM543.9 385.1H544.8V386.73H543.9ZM544.75 385.08H545.65V386.78H544.75ZM545.6 386.57H546.5V387.21H545.6ZM546.45 385.77H547.35V386.64H546.45ZM547.3 385.18H548.2V386.09H547.3ZM548.15 385.59H549.05V386.71H548.15ZM549 386.29H549.9V386.83H549ZM549.85 385.72H550.75V386.52H549.85ZM550.7 385.86H551.6V386.98H550.7ZM551.55 386.02H552.45V387.17H551.55ZM552.4 385.7H553.3V387.06H552.4ZM553.25 385.57H554.15V387.11H553.25ZM554.1 385.39H555V386.77H554.1ZM554.95 385.72H555.85V386.76H554.95ZM555.8 385.83H556.7V387.15H555.8ZM556.65 386.32H557.55V386.73H556.65ZM557.5 385.33H558.4V386.5H557.5ZM558.35 386.59H559.25V387.27H558.35ZM559.2 387.14H560.1V387.46H559.2ZM560.05 385.78H560.95V387.22H560.05ZM560.9 386.9H561.8V387.4H560.9ZM561.75 386.23H562.65V387.27H561.75ZM562.6 386.37H563.5V386.97H562.6ZM563.45 385.89H564.35V386.93H563.45ZM564.3 386.02H565.2V386.77H564.3ZM565.15 385.34H566.05V387.09H565.15ZM566 385.8H566.9V387.7H566ZM566.85 385.25H567.75V387.39H566.85ZM567.7 385.33H568.6V387.07H567.7ZM568.55 386.68H569.45V387.41H568.55ZM569.4 386.64H570.3V387.31H569.4ZM570.25 386.82H571.15V387.1H570.25ZM571.1 386.16H572V387.42H571.1ZM571.95 386.19H572.85V387.52H571.95ZM572.8 387.13H573.7V387.38H572.8ZM573.65 386.5H574.55V387.26H573.65ZM574.5 385.38H575.4V386.96H574.5ZM575.35 385.5H576.25V387.18H575.35ZM576.2 387.46H577.1V387.8H576.2ZM577.05 387.36H577.95V387.73H577.05ZM577.9 387.31H578.8V387.58H577.9ZM578.75 387.56H579.65V387.78H578.75ZM579.6 386.96H580.5V387.41H579.6ZM580.45 386.14H581.35V386.96H580.45ZM581.3 386.29H582.2V387.19H581.3ZM582.15 387.16H583.05V387.49H582.15ZM583 387.25H583.9V387.76H583ZM583.85 387.33H584.75V387.91H583.85ZM584.7 385.91H585.6V387.58H584.7ZM585.55 386.75H586.45V387.46H585.55ZM586.4 387.04H587.3V387.62H586.4ZM587.25 386.6H588.15V387.35H587.25ZM588.1 385.89H589V387.35H588.1ZM588.95 387.43H589.85V387.81H588.95ZM589.8 386.96H590.7V387.73H589.8ZM590.65 386.8H591.55V387.41H590.65ZM591.5 386.93H592.4V387.46H591.5ZM592.35 387.05H593.25V387.51H592.35ZM593.2 387.03H594.1V387.66H593.2ZM594.05 387.24H594.95V387.86H594.05ZM594.9 387.41H595.8V387.69H594.9ZM595.75 386.42H596.65V387.68H595.75ZM596.6 387.23H597.5V387.75H596.6ZM597.45 386.8H598.35V387.36H597.45ZM598.3 386.96H599.2V387.27H598.3ZM599.15 387.04H600.05V387.71H599.15ZM600 387.23H600.9V387.8H600ZM600.85 387.23H601.75V387.72H600.85ZM601.7 387.3H602.6V387.82H601.7ZM602.55 387.54H603.45V387.75H602.55ZM603.4 387.52H604.3V387.7H603.4ZM604.25 387.04H605.15V387.69H604.25ZM605.1 387.19H606V387.49H605.1ZM605.95 386.3H606.85V387.6H605.95ZM606.8 387.24H607.7V387.84H606.8ZM607.65 387.29H608.55V387.63H607.65ZM608.5 387.39H609.4V387.6H608.5ZM609.35 387.39H610.25V387.94H609.35ZM610.2 387.48H611.1V387.9H610.2ZM611.05 387.11H611.95V387.73H611.05ZM611.9 387.32H612.8V387.76H611.9ZM612.75 387.1H613.65V387.69H612.75ZM613.6 387.29H614.5V387.7H613.6ZM614.45 386.79H615.35V387.77H614.45ZM615.3 387.35H616.2V387.65H615.3ZM616.15 387.6H617.05V387.79H616.15ZM617 387.65H617.9V387.99H617ZM617.85 387.25H618.75V387.73H617.85ZM618.7 387.33H619.6V387.68H618.7ZM619.55 387.45H620.45V387.98H619.55ZM620.4 387.38H621.3V387.95H620.4ZM621.25 387.24H622.15V387.82H621.25ZM622.1 387.3H623V387.82H622.1ZM622.95 387.39H623.85V387.7H622.95ZM623.8 387.3H624.7V387.7H623.8ZM624.65 387.38H625.55V387.8H624.65ZM625.5 387.29H626.4V387.79H625.5ZM626.35 387.89H627.25V388.04H626.35ZM627.2 388.04H628.1V388.25H627.2ZM628.05 387.39H628.95V387.91H628.05ZM628.9 386.95H629.8V387.69H628.9ZM629.75 387.43H630.65V387.81H629.75ZM630.6 387.08H631.5V387.76H630.6ZM631.45 387.49H632.35V387.8H631.45ZM632.3 387.7H633.2V388.01H632.3ZM633.15 387.67H634.05V388.05H633.15ZM634 387.23H634.9V388.04H634ZM634.85 387.73H635.75V387.96H634.85ZM635.7 387.54H636.6V387.75H635.7ZM636.55 387.56H637.45V387.9H636.55ZM637.4 387.78H638.3V388.15H637.4ZM638.25 387.56H639.15V387.99H638.25ZM639.1 387.58H640V387.91H639.1ZM639.95 387.86H640.85V388.01H639.95ZM640.8 387.69H641.7V387.86H640.8ZM641.65 387.47H642.55V387.81H641.65ZM642.5 387.38H643.4V388H642.5ZM643.35 387.78H644.25V388.12H643.35ZM644.2 387.95H645.1V388.24H644.2ZM645.05 387.76H645.95V388.18H645.05ZM645.9 387.54H646.8V387.88H645.9ZM646.75 387.63H647.65V387.87H646.75ZM647.6 387.78H648.5V388H647.6ZM648.45 387.76H649.35V387.9H648.45ZM649.3 387.75H650.2V388.01H649.3ZM650.15 388.14H651.05V388.26H650.15ZM651 387.98H651.9V388.19H651ZM651.85 387.35H652.75V388.06H651.85ZM652.7 387.89H653.6V388.05H652.7ZM653.55 387.55H654.45V388.02H653.55Z" class="bd"/>
<path d="M368.9 348.5 369.6 357.25 370.3 364.24 371 366.81 371.7 369.39 372.4 371.96 373.1 373.4 373.8 374.39 374.5 375.37 375.2 376.35 375.9 377.34 376.6 378.32 377.3 378.91 378 379.33 378.7 379.76 379.4 380.19 380.1 380.62 380.8 381.05 381.5 381.48 382.2 381.9 382.9 382.33 383.6 382.73 384.3 382.95 385 383.16 385.7 383.38 386.4 383.6 387.1 383.82 387.8 384.03 388.5 384.25 389.2 384.47 389.9 384.68 390.6 384.9 391.3 385.12 392 385.33 392.7 385.55 393.4 385.77 394.1 385.91 394.8 386.04 395.5 386.17 396.2 386.3 396.9 386.43 397.6 386.56 398.3 386.7 399 386.83 399.7 386.96 400.4 387.09 401.1 387.22 401.8 387.35 402.5 387.48 403.2 387.61 403.9 387.74 404.6 387.87 405.3 388 406 388.13 406.7 388.26 407.4 388.4 408.1 388.55 408.8 388.7 409.5 388.84 410.2 388.99 410.9 389.14 411.6 389.28 412.3 389.43 413 389.57 413.7 389.72 414.4 389.87 415.1 390.01 415.8 390.16 416.5 390.31 417.2 390.45 417.9 390.6 418.6 390.74 419.3 390.89 420 391.04 420.7 391.15 421.4 391.25 422.1 391.34 422.8 391.44 423.5 391.53 424.2 391.62 424.9 391.72 425.6 391.81 426.3 391.91 427 392 427.7 391.97 428.4 391.93 429.1 391.9 429.8 391.86 430.5 391.76 431.2 391.7 431.9 391.6 432.6 391.52 433.3 391.76 434 391.93 434.7 391.63 435.4 391.51 436.1 391.94 436.8 391.9 437.5 391.04 438.2 390.64 438.9 391.03 439.6 391.13 440.3 390.79 441 390.55 441.7 390.46 442.4 390.19 443.1 390.17 443.8 390.32 444.5 389.78 445.2 388.87 445.9 388.66 446.6 388.75 447.3 388.05 448 387.23 448.7 387.4 449.4 388.02 450.1 387.99 450.8 387.69 451.5 387.5 452.2 387.04 452.9 386.55 453.6 386.6 454.3 386.65 455 386.14 455.7 385.94 456.4 386.45 457.1 386.44 457.8 385.49 458.5 384.94 459.2 385.3 459.9 385.58 460.6 385.57 461.3 385.7 462 385.69 462.7 385.19 463.4 384.81 464.1 384.77 464.8 384.41 465.5 384.12 466.2 384.9 466.9 386.09 467.6 386.23 468.3 385.62 469 385.49 469.7 385.57 470.4 385.25 471.1 385.06 471.8 385.41 472.5 385.72 473.2 385.92 473.9 386.38 474.6 386.51 475.3 385.86 476 385.52 476.7 386.23 477.4 386.84 478.1 386.59 478.8 386.43 479.5 386.81 480.2 386.83 480.9 386.31 481.6 386.12 482.3 386.24 483 386.34 483.7 386.8 484.4 387.53 485.1 387.48 485.8 386.78 486.5 386.68 487.2 387.1 487.9 386.83 488.6 386.22 489.3 386.4 490 387.02 490.7 387.13 491.4 387.06 492.1 387.21 492.8 387.16 493.5 387.05 494.2 387.39 494.9 387.61 495.6 387.02 496.3 386.53 497 387 497.7 387.43 498.4 387.06 499.1 386.86 499.8 387.39 500.5 387.75 501.2 387.56 501.9 387.47 502.6 387.45 503.3 387.22 504 387.33 504.7 387.86 505.4 387.78 506.1 387.09 506.8 387.04 507.5 387.64 508.2 387.68 508.9 387.3 509.6 387.62 510.3 388.33 511 388.44 511.7 388.15 512.4 387.88 513.1 387.38 513.8 386.95 514.5 387.34 515.2 388.01 515.9 388.01 516.6 387.95 517.3 388.57 518 388.9 518.7 388.17 519.4 387.46 520.1 387.65 520.8 388.01 521.5 388.1 522.2 388.31 522.9 388.4 523.6 387.99 524.3 387.76 525 388.07 525.7 388.08 526.4 387.68 527.1 388.01 527.8 388.94 528.5 389.01 529.2 388.16 529.9 387.66 530.6 387.6 531.3 387.42 532 387.4 532.7 387.82 533.4 388.07 534.1 388.03 534.8 388.26 535.5 388.34 536.2 387.53 536.9 386.72 537.6 386.97 538.3 387.5 539 387.29 539.7 386.97 540.4 387.16 541.1 387.26 541.8 386.97 542.5 386.85 543.2 386.85 543.9 386.58 544.6 386.54 545.3 386.96 546 386.93 546.7 386.21 547.4 386 548.1 386.56 548.8 386.77 549.5 386.47 550.2 386.54 550.9 386.98 551.6 387.07 552.3 386.98 553 387.04 553.7 386.88 554.4 386.6 555.1 386.78 555.8 387.1 556.5 386.8 557.2 386.4 557.9 386.79 558.6 387.41 559.3 387.4 560 387.21 560.7 387.34 561.4 387.39 562.1 387.11 562.8 386.95 563.5 386.92 564.2 386.78 564.9 386.91 565.6 387.48 566.3 387.7 567 387.29 567.7 387.07 568.4 387.35 569.1 387.42 569.8 387.15 570.5 387.16 571.2 387.46 571.9 387.52 572.6 387.4 573.3 387.33 574 387.14 574.7 386.93 575.4 387.21 576.1 387.75 576.8 387.82 577.5 387.58 578.2 387.66 578.9 387.77 579.6 387.41 580.3 386.99 581 387.06 581.7 387.35 582.4 387.56 583.1 387.8 583.8 387.92 584.5 387.68 585.2 387.44 585.9 387.55 586.6 387.6 587.3 387.34 588 387.31 588.7 387.7 589.4 387.86 590.1 387.59 590.8 387.4 591.5 387.46 592.2 387.5 592.9 387.58 593.6 387.79 594.3 387.84 595 387.67 595.7 387.67 596.4 387.77 597.1 387.55 597.8 387.23 598.5 387.36 599.2 387.73 599.9 387.81 600.6 387.72 601.3 387.78 602 387.82 602.7 387.73 603.4 387.7 604.1 387.71 604.8 387.56 605.5 387.48 606.2 387.7 606.9 387.84 607.6 387.65 608.3 387.55 609 387.81 609.7 387.98 610.4 387.84 611.1 387.73 611.8 387.76 612.5 387.71 613.2 387.67 613.9 387.75 614.6 387.76 615.3 387.65 616 387.74 616.7 387.97 617.4 387.91 618.1 387.66 618.8 387.71 619.5 387.97 620.2 387.99 620.9 387.85 621.6 387.82 622.3 387.8 623 387.69 623.7 387.69 624.4 387.79 625.1 387.79 625.8 387.84 626.5 388.11 627.2 388.25 627.9 387.99 628.6 387.71 629.3 387.74 630 387.82 630.7 387.75 631.4 387.79 632.1 387.97 632.8 388.05 633.5 388.04 634.2 388.04 634.9 387.95 635.6 387.76 636.3 387.81 637 388.07 637.7 388.13 638.4 387.95 639.1 387.91 639.8 388 640.5 387.93 641.2 387.79 641.9 387.86 642.6 388.02 643.3 388.12 644 388.22 644.7 388.25 645.4 388.06 646.1 387.84 646.8 387.88 647.5 387.99 648.2 387.93 648.9 387.91 649.6 388.12 650.3 388.28 651 388.19 651.7 388.07 652.4 388.06 653.1 388.03 653.8 388.03 654.5 388.12 655.2 388.1 655.6 388.1" class="tr"/>
<path d="M431.1 392.01V388.3M435.9 392.11V368.9M437 392V374.4M443.7 390.63V378.2M447.2 388.49V336.8M454.2 386.98V371.5M456.3 386.68V322M460.6 385.87V355.2M463.1 385.21V319.7M464.4 384.98V329.2M468.5 385.81V376.9M471.1 385.36V338.1M475.7 385.83V362.2M479 386.81V334.7M480.2 387.13V346M483.2 386.71V381M485.2 387.69V381M487.2 387.4V359.8M488.4 386.65V365.2M496.4 386.84V365.5M505.6 387.9V370.2M514.8 387.97V374.9M524 388.08V378M533.1 388.32V379.1M541.1 387.56V379.3M547.5 386.35V379.3M548.3 387V381M554.7 386.91V380.7M562.5 387.28V382.6M570.9 387.63V384.2M581.6 387.61V385.2M608.8 388.02V385.2M433.4 392.1V391.08M435.92 392.12V388.73M436.91 392.1V390.01M437.45 391.41V389.47M438.81 391.27V389.42M440.13 391.16V388.87M440.38 391.04V388.13M443.26 390.52V389.41M443.29 390.53V389.57M447.89 387.61V384.6M448.24 387.47V386.24M449.02 388.03V384.68M449.62 388.39V387.48M452.76 386.91V382.79M452.82 386.88V385.61M454.21 386.97V381.87M462.45 385.69V381.78M462.75 385.44V384.01M464.05 385.08V383.71M466.18 385.15V382.46M467.15 386.59V385.57M467.72 386.43V381.33M471.84 385.74V384.25M471.96 385.81V383.67M471.99 385.83V383.71M473.82 386.63V385.5M476.68 386.51V385.54M476.98 386.87V382.58M483.07 386.66V381.92M483.28 386.75V382.94M488.04 387V385.58M489.36 386.76V382.38M490.86 387.4V386.13M492.85 387.45V385.69M498.28 387.45V385.38M500.64 388.04V386.92M505.07 388.24V386.96M506.35 387.25V383.44M507.2 387.69V383.99M507.23 387.72V382.62M509.67 388V386.76M510.5 388.74V387.52M514.31 387.46V386.22M514.71 387.87V386.02M517.46 389.03V388.01M518.21 389.08V387.56M518.27 389.02V387.61M518.79 388.34V385.51M519.08 387.98V385.6M520.53 388.21V386.73M523.86 388.13V386.69M525.12 388.42V387.49M527.02 388.22V387M527.05 388.26V386.16M527.5 388.87V386.73M527.51 388.88V384.88M528.5 389.3V384.51M533.27 388.36V385.91M533.69 388.35V386.23M537.15 386.99V382.2M537.67 387.33V385.41M538.37 387.82V386.63M538.88 387.67V386.16M540.63 387.54V383.78M446.48 389.08V383.82M447.19 388.5V387.56M447.24 388.44V387.3M447.51 388.04V383.55M450.37 388.17V383.85M452.15 387.38V380.14M453.76 386.95V380.09M456.69 386.89V385.85M457.41 386.38V384.33M457.73 385.89V380.87M458.13 385.4V384.49M458.37 385.26V383.34M459.1 385.52V383.04M459.94 385.88V384.56M460.09 385.88V383.54M460.25 385.88V382.35M461.83 386.04V384.67M462.28 385.82V383.1M463.39 385.11V379.22M464.4 384.98V384.06M465.01 384.55V383.19M465.02 384.54V382.15M465.51 384.42V378.88M465.81 384.62V379.66M467.34 386.63V385.46M467.93 386.24V379.34M469.44 385.88V375.18M470.24 385.64V384.04M471.93 385.79V383.66M472.04 385.85V382.51M472.38 385.99V384.88M472.68 386.07V384.5M472.84 386.1V383.33M474.4 386.86V384.36M474.4 386.86V383.57M474.42 386.86V384.87M475.96 385.81V382.57M477.8 387.06V383.11M478.51 386.71V383.45M478.71 386.71V385.37M479.77 387.21V385.8M480.48 386.94V384.59M482.67 386.58V382.36M483.63 387.03V386.12M484.23 387.69V381.34M485.31 387.58V385.85M486.76 387.14V376.44M488.87 386.48V382.91M490.67 387.44V385.82M452.52 387.07V383.17M455.29 386.26V383.03M457.37 386.43V374.15M457.45 386.33V384.45M459.28 385.65V380.1M462.17 385.9V384.85M462.81 385.4V375.38M463.45 385.1V380.8M466.52 385.8V384.82M466.57 385.89V378.67M467.3 386.63V385.52M468.78 385.76V384.26M468.9 385.77V384.2M468.93 385.77V383.6M470.19 385.67V383.2" class="pk"/>
<text class="lt" x="629" y="254.3" text-anchor="middle">D</text>
<g class="ax">
<path d="M13.9 637V451.6H330.8V637H13.3" />
<path d="M13.9 633.96h-1.3M13.9 630.62h-1.3M13.9 627.28h-1.3M13.9 623.94h-1.3M13.9 620.6h-3.3M13.9 617.26h-1.3M13.9 613.92h-1.3M13.9 610.58h-1.3M13.9 607.24h-1.3M13.9 603.9h-1.3M13.9 600.56h-1.3M13.9 597.22h-1.3M13.9 593.88h-1.3M13.9 590.54h-1.3M13.9 587.2h-3.3M13.9 583.86h-1.3M13.9 580.52h-1.3M13.9 577.18h-1.3M13.9 573.84h-1.3M13.9 570.5h-1.3M13.9 567.16h-1.3M13.9 563.82h-1.3M13.9 560.48h-1.3M13.9 557.14h-1.3M13.9 553.8h-3.3M13.9 550.46h-1.3M13.9 547.12h-1.3M13.9 543.78h-1.3M13.9 540.44h-1.3M13.9 537.1h-1.3M13.9 533.76h-1.3M13.9 530.42h-1.3M13.9 527.08h-1.3M13.9 523.74h-1.3M13.9 520.4h-3.3M13.9 517.06h-1.3M13.9 513.72h-1.3M13.9 510.38h-1.3M13.9 507.04h-1.3M13.9 503.7h-1.3M13.9 500.36h-1.3M13.9 497.02h-1.3M13.9 493.68h-1.3M13.9 490.34h-1.3M13.9 487h-3.3M13.9 483.66h-1.3M13.9 480.32h-1.3M13.9 476.98h-1.3M13.9 473.64h-1.3M13.9 470.3h-1.3M13.9 466.96h-1.3M13.9 463.62h-1.3M13.9 460.28h-1.3M13.9 456.94h-1.3M13.9 453.6h-3.3" class="tk"/>
<path d="M19.06 637v2.5M24.92 637v2.5M30.78 637v2.5M36.64 637v2.5M42.5 637v4.9M48.36 637v2.5M54.22 637v2.5M60.08 637v2.5M65.94 637v2.5M71.8 637v4.9M77.66 637v2.5M83.52 637v2.5M89.38 637v2.5M95.24 637v2.5M101.1 637v4.9M106.96 637v2.5M112.82 637v2.5M118.68 637v2.5M124.54 637v2.5M130.4 637v4.9M136.26 637v2.5M142.12 637v2.5M147.98 637v2.5M153.84 637v2.5M159.7 637v4.9M165.56 637v2.5M171.42 637v2.5M177.28 637v2.5M183.14 637v2.5M189 637v4.9M194.86 637v2.5M200.72 637v2.5M206.58 637v2.5M212.44 637v2.5M218.3 637v4.9M224.16 637v2.5M230.02 637v2.5M235.88 637v2.5M241.74 637v2.5M247.6 637v4.9M253.46 637v2.5M259.32 637v2.5M265.18 637v2.5M271.04 637v2.5M276.9 637v4.9M282.76 637v2.5M288.62 637v2.5M294.48 637v2.5M300.34 637v2.5M306.2 637v4.9M312.06 637v2.5M317.92 637v2.5M323.78 637v2.5M329.64 637v2.5" class="tk"/>
</g>
<g class="lb">
<text x="10.3" y="623.13" font-size="7.03" text-anchor="end" textLength="6.4" lengthAdjust="spacingAndGlyphs">0.0</text>
<text x="10.3" y="589.73" font-size="7.03" text-anchor="end" textLength="6.4" lengthAdjust="spacingAndGlyphs">1.0</text>
<text x="10.3" y="556.33" font-size="7.03" text-anchor="end" textLength="6.4" lengthAdjust="spacingAndGlyphs">2.0</text>
<text x="10.3" y="522.93" font-size="7.03" text-anchor="end" textLength="6.4" lengthAdjust="spacingAndGlyphs">3.0</text>
<text x="10.3" y="489.53" font-size="7.03" text-anchor="end" textLength="6.4" lengthAdjust="spacingAndGlyphs">4.0</text>
<text x="10.3" y="456.13" font-size="7.03" text-anchor="end" textLength="6.4" lengthAdjust="spacingAndGlyphs">5.0</text>
<text x="42.5" y="649" font-size="6.98" text-anchor="middle" textLength="6.2" lengthAdjust="spacingAndGlyphs">2.5</text>
<text x="71.8" y="649" font-size="6.98" text-anchor="middle" textLength="6.2" lengthAdjust="spacingAndGlyphs">5.0</text>
<text x="101.1" y="649" font-size="6.98" text-anchor="middle" textLength="6.2" lengthAdjust="spacingAndGlyphs">7.5</text>
<text x="130.4" y="649" font-size="6.98" text-anchor="middle" textLength="9.2" lengthAdjust="spacingAndGlyphs">10.0</text>
<text x="159.7" y="649" font-size="6.98" text-anchor="middle" textLength="9.2" lengthAdjust="spacingAndGlyphs">12.5</text>
<text x="189" y="649" font-size="6.98" text-anchor="middle" textLength="9.2" lengthAdjust="spacingAndGlyphs">15.0</text>
<text x="218.3" y="649" font-size="6.98" text-anchor="middle" textLength="9.2" lengthAdjust="spacingAndGlyphs">17.5</text>
<text x="247.6" y="649" font-size="6.98" text-anchor="middle" textLength="9.2" lengthAdjust="spacingAndGlyphs">20.0</text>
<text x="276.9" y="649" font-size="6.98" text-anchor="middle" textLength="9.2" lengthAdjust="spacingAndGlyphs">22.5</text>
<text x="306.2" y="649" font-size="6.98" text-anchor="middle" textLength="9.2" lengthAdjust="spacingAndGlyphs">25.0</text>
<text x="325.6" y="649" font-size="6.98" text-anchor="middle" textLength="8" lengthAdjust="spacingAndGlyphs">min</text>
<text x="10.3" y="450.2" font-size="7.53" textLength="27.05" lengthAdjust="spacingAndGlyphs">uV(x1,000)</text>
<text x="14.3" y="459.5" font-size="7.33" textLength="30.67" lengthAdjust="spacingAndGlyphs">Chromatogram</text>
</g>
<path class="tr" d="M13.9 620.6H24"/><path class="tr3" d="M24.7 586V451.6"/><path class="tr" d="M24 620.6V584M25.9 613V584"/><path class="tr" d="M27.3 539.3V613"/><path class="tr2" d="M27.6 584V613"/><path class="tr" d="M28.6 599V613"/>
<path d="M97 620.16H97.9V620.59H97ZM97.85 619.77H98.75V620.49H97.85ZM98.7 619.82H99.6V620.37H98.7ZM99.55 619.5H100.45V620.26H99.55ZM100.4 619.96H101.3V620.23H100.4ZM101.25 619.98H102.15V620.42H101.25ZM102.1 619.91H103V620.59H102.1ZM102.95 619.69H103.85V620.24H102.95ZM103.8 618.22H104.7V619.41H103.8ZM104.65 617.45H105.55V618.82H104.65ZM105.5 618.34H106.4V618.99H105.5ZM106.35 616.47H107.25V619.57H106.35ZM107.2 618.83H108.1V619.87H107.2ZM108.05 618.53H108.95V619.73H108.05ZM108.9 618.16H109.8V619.58H108.9ZM109.75 617.18H110.65V619.18H109.75ZM110.6 617.58H111.5V618.57H110.6ZM111.45 615.79H112.35V617.96H111.45ZM112.3 616.87H113.2V618.12H112.3ZM113.15 617.38H114.05V618.48H113.15ZM114 617.32H114.9V618.71H114ZM114.85 616.55H115.75V618.24H114.85ZM115.7 616.52H116.6V617.8H115.7ZM116.55 615.8H117.45V617.97H116.55ZM117.4 615.88H118.3V618.23H117.4ZM118.25 615.8H119.15V617.96H118.25ZM119.1 615.77H120V617.68H119.1ZM119.95 614.86H120.85V617.6H119.95ZM120.8 614.18H121.7V617.7H120.8ZM121.65 614.08H122.55V617.37H121.65ZM122.5 614.84H123.4V616.98H122.5ZM123.35 613.25H124.25V616.92H123.35ZM124.2 615.26H125.1V617.24H124.2ZM125.05 615.61H125.95V617.31H125.05ZM125.9 611.96H126.8V617.09H125.9ZM126.75 615.32H127.65V616.92H126.75ZM127.6 613.56H128.5V617.03H127.6ZM128.45 614.73H129.35V617.36H128.45ZM129.3 614.04H130.2V616.91H129.3ZM130.15 611.23H131.05V616.5H130.15ZM131 612.23H131.9V616.35H131ZM131.85 613.65H132.75V616.9H131.85ZM132.7 611.01H133.6V617.01H132.7ZM133.55 614.13H134.45V616.99H133.55ZM134.4 614.79H135.3V617.13H134.4ZM135.25 616.06H136.15V617.4H135.25ZM136.1 615.61H137V617.23H136.1ZM136.95 614.59H137.85V616.5H136.95ZM137.8 610.79H138.7V616.21H137.8ZM138.65 613.86H139.55V616.39H138.65ZM139.5 614.88H140.4V616.8H139.5ZM140.35 613.88H141.25V616.81H140.35ZM141.2 613.92H142.1V616.78H141.2ZM142.05 614.29H142.95V616.98H142.05ZM142.9 614.52H143.8V617.27H142.9ZM143.75 614.63H144.65V617.14H143.75ZM144.6 615.33H145.5V616.52H144.6ZM145.45 615.09H146.35V616.18H145.45ZM146.3 614.17H147.2V616.38H146.3ZM147.15 614.36H148.05V616.57H147.15ZM148 614.55H148.9V616.53H148ZM148.85 613.88H149.75V616.62H148.85ZM149.7 614.61H150.6V616.81H149.7ZM150.55 615H151.45V616.97H150.55ZM151.4 613.4H152.3V616.56H151.4ZM152.25 614.93H153.15V616.12H152.25ZM153.1 614.28H154V616.22H153.1ZM153.95 614.85H154.85V616.76H153.95ZM154.8 613.07H155.7V617.04H154.8ZM155.65 615.6H156.55V616.55H155.65ZM156.5 614.42H157.4V616.12H156.5ZM157.35 611.46H158.25V616.01H157.35ZM158.2 614.38H159.1V616.13H158.2ZM159.05 614.91H159.95V616.29H159.05ZM159.9 615.24H160.8V616.57H159.9ZM160.75 616.23H161.65V617.09H160.75ZM161.6 616.16H162.5V617.28H161.6ZM162.45 614.28H163.35V616.52H162.45ZM163.3 613.17H164.2V615.54H163.3ZM164.15 613.11H165.05V615.39H164.15ZM165 613.71H165.9V616.09H165ZM165.85 614.54H166.75V616.85H165.85ZM166.7 614.71H167.6V617.09H166.7ZM167.55 615.95H168.45V616.97H167.55ZM168.4 613.36H169.3V616.8H168.4ZM169.25 615.08H170.15V616.59H169.25ZM170.1 614.92H171V616.15H170.1ZM170.95 613.91H171.85V615.99H170.95ZM171.8 613.99H172.7V616.22H171.8ZM172.65 615.62H173.55V616.64H172.65ZM173.5 614.57H174.4V616.29H173.5ZM174.35 613.85H175.25V615.69H174.35ZM175.2 613.78H176.1V615.49H175.2ZM176.05 614.84H176.95V616.06H176.05ZM176.9 613.86H177.8V616.34H176.9ZM177.75 614.72H178.65V616.09H177.75ZM178.6 613.17H179.5V615.72H178.6ZM179.45 613.9H180.35V615.48H179.45ZM180.3 613.91H181.2V615.36H180.3ZM181.15 613.32H182.05V615.13H181.15ZM182 614.24H182.9V615.19H182ZM182.85 613.74H183.75V615.6H182.85ZM183.7 614.83H184.6V615.94H183.7ZM184.55 613.96H185.45V615.62H184.55ZM185.4 613.44H186.3V615.01H185.4ZM186.25 613.43H187.15V614.74H186.25ZM187.1 612.84H188V615.25H187.1ZM187.95 614.19H188.85V615.58H187.95ZM188.8 612.7H189.7V615.32H188.8ZM189.65 613.9H190.55V614.76H189.65ZM190.5 612.77H191.4V614.41H190.5ZM191.35 613.2H192.25V614.39H191.35ZM192.2 613.54H193.1V614.42H192.2ZM193.05 612.68H193.95V614.69H193.05ZM193.9 613.93H194.8V615.21H193.9ZM194.75 614.45H195.65V615.61H194.75ZM195.6 613.12H196.5V615.01H195.6ZM196.45 612.75H197.35V613.91H196.45ZM197.3 612.12H198.2V613.33H197.3ZM198.15 611.9H199.05V613.67H198.15ZM199 612.84H199.9V614.28H199ZM199.85 612.67H200.75V614.46H199.85ZM200.7 612.89H201.6V614.24H200.7ZM201.55 611.97H202.45V613.92H201.55ZM202.4 612.66H203.3V613.41H202.4ZM203.25 609.29H204.15V612.57H203.25ZM204.1 611.05H205V611.76H204.1ZM204.95 610.06H205.85V611.64H204.95ZM205.8 610.58H206.7V611.48H205.8ZM206.65 609.26H207.55V610.81H206.65ZM207.5 607.9H208.4V609.68H207.5ZM208.35 607.52H209.25V608.76H208.35ZM209.2 606.64H210.1V608.32H209.2ZM210.05 606.53H210.95V607.87H210.05ZM210.9 605.74H211.8V607.26H210.9ZM211.75 605.33H212.65V606.58H211.75ZM212.6 604.79H213.5V606.18H212.6ZM213.45 605.18H214.35V605.83H213.45ZM214.3 604.19H215.2V605.04H214.3ZM215.15 603.32H216.05V604.23H215.15ZM216 603.44H216.9V603.9H216ZM216.85 602.85H217.75V603.92H216.85ZM217.7 603.32H218.6V603.77H217.7ZM218.55 601.8H219.45V603.38H218.55ZM219.4 602.6H220.3V603.17H219.4ZM220.25 602.25H221.15V603.16H220.25ZM221.1 602.34H222V602.94H221.1ZM221.95 601.62H222.85V602.25H221.95ZM222.8 600.95H223.7V601.72H222.8ZM223.65 600.48H224.55V601.66H223.65ZM224.5 600.7H225.4V601.9H224.5ZM225.35 601.67H226.25V602.01H225.35ZM226.2 601.31H227.1V601.95H226.2ZM227.05 601.47H227.95V602H227.05ZM227.9 600.32H228.8V602.1H227.9ZM228.75 600.92H229.65V601.91H228.75ZM229.6 601.05H230.5V601.47H229.6ZM230.45 600.72H231.35V601.23H230.45ZM231.3 600.53H232.2V601.36H231.3ZM232.15 600.75H233.05V601.48H232.15ZM233 601.04H233.9V601.3H233ZM233.85 599.63H234.75V601.1H233.85ZM234.7 600.87H235.6V601.21H234.7ZM235.55 600.44H236.45V601.51H235.55ZM236.4 601.02H237.3V601.53H236.4ZM237.25 599.3H238.15V601.28H237.25ZM238.1 600.46H239V601.16H238.1ZM238.95 600.33H239.85V601.25H238.95ZM239.8 601.01H240.7V601.32H239.8ZM240.65 600.44H241.55V601.26H240.65ZM241.5 600.99H242.4V601.32H241.5ZM242.35 600.58H243.25V601.57H242.35ZM243.2 601.43H244.1V601.68H243.2ZM244.05 601.05H244.95V601.47H244.05ZM244.9 601.03H245.8V601.27H244.9ZM245.75 601.08H246.65V601.47H245.75ZM246.6 601.36H247.5V601.87H246.6ZM247.45 601.5H248.35V601.98H247.45ZM248.3 601.3H249.2V601.71H248.3ZM249.15 600.97H250.05V601.43H249.15ZM250 600.64H250.9V601.38H250ZM250.85 600.38H251.75V601.45H250.85ZM251.7 600.86H252.6V601.58H251.7ZM252.55 601.09H253.45V601.89H252.55ZM253.4 601.91H254.3V602.28H253.4ZM254.25 600.63H255.15V602.36H254.25ZM255.1 601.36H256V601.92H255.1ZM255.95 600.63H256.85V601.4H255.95ZM256.8 600.07H257.7V601.33H256.8ZM257.65 600.84H258.55V601.7H257.65ZM258.5 600.87H259.4V602.06H258.5ZM259.35 600.95H260.25V602.16H259.35ZM260.2 601.43H261.1V602.14H260.2ZM261.05 601.81H261.95V602.11H261.05ZM261.9 601.45H262.8V602H261.9ZM262.75 601.54H263.65V601.83H262.75ZM263.6 601.35H264.5V601.86H263.6ZM264.45 601.83H265.35V602.14H264.45ZM265.3 601.3H266.2V602.34H265.3ZM266.15 601.56H267.05V602.17H266.15ZM267 601.47H267.9V601.88H267ZM267.85 600.37H268.75V601.87H267.85ZM268.7 601.64H269.6V602.15H268.7ZM269.55 601.66H270.45V602.38H269.55ZM270.4 601H271.3V602.4H270.4ZM271.25 601.68H272.15V602.38H271.25ZM272.1 601.76H273V602.41H272.1ZM272.95 601.48H273.85V602.39H272.95ZM273.8 601.6H274.7V602.3H273.8ZM274.65 601.79H275.55V602.33H274.65ZM275.5 602.08H276.4V602.58H275.5ZM276.35 602.52H277.25V602.8H276.35ZM277.2 602.39H278.1V602.76H277.2ZM278.05 602.19H278.95V602.63H278.05ZM278.9 602.39H279.8V602.73H278.9ZM279.75 601.68H280.65V603.02H279.75ZM280.6 602.83H281.5V603.23H280.6ZM281.45 602.68H282.35V603.19H281.45ZM282.3 602.69H283.2V603.1H282.3ZM283.15 602.55H284.05V603.13H283.15ZM284 602.8H284.9V603.24H284ZM284.85 602.95H285.75V603.36H284.85ZM285.7 602.48H286.6V603.6H285.7ZM286.55 603.47H287.45V603.98H286.55ZM287.4 603.94H288.3V604.24H287.4ZM288.25 603.96H289.15V604.17H288.25ZM289.1 602.87H290V603.93H289.1ZM289.95 603.64H290.85V603.9H289.95ZM290.8 602.92H291.7V604.08H290.8ZM291.65 603.85H292.55V604.3H291.65ZM292.5 603.88H293.4V604.39H292.5ZM293.35 604.04H294.25V604.44H293.35ZM294.2 603.61H295.1V604.52H294.2ZM295.05 604.41H295.95V604.55H295.05ZM295.9 603.38H296.8V604.46H295.9ZM296.75 604.13H297.65V604.43H296.75ZM297.6 603.52H298.5V604.59H297.6ZM298.45 604.44H299.35V604.78H298.45ZM299.3 604.47H300.2V604.79H299.3ZM300.15 604.16H301.05V604.67H300.15ZM301 604.18H301.9V604.65H301ZM301.85 604.58H302.75V604.78H301.85ZM302.7 604.69H303.6V604.89H302.7ZM303.55 604.31H304.45V604.92H303.55ZM304.4 604.73H305.3V604.97H304.4ZM305.25 604.24H306.15V605.11H305.25ZM306.1 604.55H307V605.19H306.1ZM306.95 604.7H307.85V605.09H306.95ZM307.8 604.73H308.7V604.94H307.8ZM308.65 604.67H309.55V604.92H308.65ZM309.5 604.68H310.4V605.01H309.5ZM310.35 604.62H311.25V605.07H310.35ZM311.2 604.16H312.1V605.09H311.2ZM312.05 604.9H312.95V605.19H312.05ZM312.9 605.02H313.8V605.34H312.9ZM313.75 604.75H314.65V605.35H313.75ZM314.6 604.99H315.5V605.18H314.6ZM315.45 604.87H316.35V605.04H315.45ZM316.3 604.97H317.2V605.08H316.3ZM317.15 604.98H318.05V605.21H317.15ZM318 605.11H318.9V605.26H318ZM318.85 605.06H319.75V605.27H318.85ZM319.7 605.07H320.6V605.33H319.7ZM320.55 605.08H321.45V605.39H320.55ZM321.4 605.22H322.3V605.36H321.4ZM322.25 605.01H323.15V605.29H322.25ZM323.1 604.98H324V605.3H323.1ZM323.95 605.24H324.85V605.4H323.95ZM324.8 605.19H325.7V605.44H324.8ZM325.65 605.11H326.55V605.36H325.65ZM326.5 604.98H327.4V605.3H326.5ZM327.35 605.29H328.25V605.38H327.35ZM328.2 605.3H329.1V605.5H328.2ZM329.05 605.44H329.95V605.54H329.05Z" class="bd"/>
<path d="M27.3 612.6 28 612.85 28.7 613.69 29.4 615.31 30.1 616.74 30.8 617.02 31.5 617.3 32.2 617.58 32.9 617.86 33.6 618.14 34.3 618.42 35 618.7 35.7 618.78 36.4 618.85 37.1 618.93 37.8 619.01 38.5 619.09 39.2 619.16 39.9 619.24 40.6 619.32 41.3 619.39 42 619.47 42.7 619.55 43.4 619.63 44.1 619.7 44.8 619.78 45.5 619.86 46.2 619.93 46.9 620 47.6 620.04 48.3 620.07 49 620.1 49.7 620.13 50.4 620.16 51.1 620.2 51.8 620.23 52.5 620.26 53.2 620.29 53.9 620.32 54.6 620.35 55.3 620.39 56 620.42 56.7 620.45 57.4 620.48 58.1 620.51 58.8 620.55 59.5 620.58 60.2 620.6 60.9 620.6 61.6 620.6 62.3 620.6 63 620.6 63.7 620.6 64.4 620.6 65.1 620.6 65.8 620.6 66.5 620.6 67.2 620.6 67.9 620.6 68.6 620.6 69.3 620.6 70 620.6 70.7 620.6 71.4 620.6 72.1 620.6 72.8 620.6 73.5 620.6 74.2 620.6 74.9 620.6 75.6 620.6 76.3 620.6 77 620.6 77.7 620.6 78.4 620.6 79.1 620.6 79.8 620.6 80.5 620.6 81.2 620.6 81.9 620.6 82.6 620.6 83.3 620.6 84 620.6 84.7 620.6 85.4 620.6 86.1 620.6 86.8 620.6 87.5 620.6 88.2 620.6 88.9 620.6 89.6 620.6 90.3 620.6 91 620.6 91.7 620.6 92.4 620.6 93.1 620.6 93.8 620.6 94.5 620.6 95.2 620.6 95.9 620.6 96.6 620.6 97.3 620.54 98 620.48 98.7 620.37 99.4 620.27 100.1 620.22 100.8 620.29 101.5 620.5 102.2 620.59 102.9 620.28 103.6 619.59 104.3 618.93 105 618.73 105.7 619.01 106.4 619.46 107.1 619.68 107.8 619.61 108.5 619.42 109.2 619.18 109.9 618.8 110.6 618.22 111.3 617.69 112 617.57 112.7 617.87 113.4 618.2 114.1 618.15 114.8 617.72 115.5 617.34 116.2 617.32 116.9 617.52 117.6 617.57 118.3 617.3 119 616.93 119.7 616.76 120.4 616.81 121.1 616.8 121.8 616.56 122.5 616.25 123.2 616.19 123.9 616.4 124.6 616.57 125.3 616.47 126 616.19 126.7 616.06 127.4 616.25 128.1 616.53 128.8 616.5 129.5 616.12 130.2 615.72 130.9 615.67 131.6 615.96 132.3 616.26 133 616.34 133.7 616.33 134.4 616.45 135.1 616.67 135.8 616.68 136.5 616.31 137.2 615.79 137.9 615.55 138.6 615.75 139.3 616.14 140 616.32 140.7 616.24 141.4 616.18 142.1 616.38 142.8 616.66 143.5 616.67 144.2 616.29 144.9 615.82 145.6 615.65 146.3 615.81 147 616.03 147.7 616.08 148.4 616.06 149.1 616.19 149.8 616.46 150.5 616.56 151.2 616.27 151.9 615.78 152.6 615.55 153.3 615.83 154 616.34 154.7 616.57 155.4 616.33 156.1 615.89 156.8 615.61 157.5 615.62 158.2 615.73 158.9 615.84 159.6 616.04 160.3 616.45 161 616.87 161.7 616.86 162.4 616.25 163.1 615.4 163.8 614.96 164.5 615.22 165.2 615.92 165.9 616.5 166.6 616.7 167.3 616.64 168 616.54 168.7 616.42 169.4 616.16 170.1 615.79 170.8 615.56 171.5 615.74 172.2 616.12 172.9 616.25 173.6 615.9 174.3 615.37 175 615.14 175.7 615.44 176.4 615.88 177.1 616.03 177.8 615.78 178.5 615.41 179.2 615.2 179.9 615.11 180.6 614.99 181.3 614.83 182 614.86 182.7 615.2 183.4 615.58 184.1 615.59 184.8 615.13 185.5 614.6 186.2 614.47 186.9 614.81 187.6 615.23 188.3 615.26 189 614.88 189.7 614.42 190.4 614.18 191.1 614.13 191.8 614.12 192.5 614.17 193.2 614.46 193.9 614.96 194.6 615.3 195.3 615.06 196 614.25 196.7 613.39 197.4 613.06 198.1 613.35 198.8 613.88 199.5 614.21 200.2 614.19 200.9 613.91 201.6 613.63 202.3 613.22 203 612.57 203.7 611.85 204.4 611.44 205.1 611.42 205.8 611.26 206.5 610.78 207.2 609.9 207.9 608.99 208.6 608.39 209.3 608.08 210 607.71 210.7 607.25 211.4 606.67 212.1 606.24 212.8 605.98 213.5 605.65 214.2 605.05 214.9 604.31 215.6 603.9 216.3 603.82 217 603.84 217.7 603.7 218.4 603.4 219.1 603.16 219.8 603.12 220.5 603.11 221.2 602.85 221.9 602.27 222.6 601.78 223.3 601.6 224 601.73 224.7 601.93 225.4 602 226.1 601.95 226.8 601.97 227.5 602.07 228.2 602.08 228.9 601.84 229.6 601.47 230.3 601.24 231 601.29 231.7 601.45 232.4 601.46 233.1 601.27 233.8 601.11 234.5 601.16 235.2 601.39 235.9 601.57 236.6 601.48 237.3 601.27 238 601.16 238.7 601.22 239.4 601.31 240.1 601.3 240.8 601.25 241.5 601.32 242.2 601.53 242.9 601.68 243.6 601.61 244.3 601.38 245 601.27 245.7 601.45 246.4 601.79 247.1 601.99 247.8 601.9 248.5 601.63 249.2 601.42 249.9 601.37 250.6 601.42 251.3 601.5 252 601.66 252.7 601.96 253.4 602.28 254.1 602.38 254.8 602.12 255.5 601.65 256.2 601.32 256.9 601.35 257.6 601.67 258.3 601.99 259 602.14 259.7 602.15 260.4 602.14 261.1 602.11 261.8 602.02 262.5 601.87 263.2 601.81 263.9 601.94 264.6 602.2 265.3 602.34 266 602.22 266.7 601.96 267.4 601.82 268.1 601.94 268.8 602.19 269.5 602.37 270.2 602.4 270.9 602.38 271.6 602.39 272.3 602.41 273 602.39 273.7 602.31 274.4 602.3 275.1 602.44 275.8 602.68 276.5 602.81 277.2 602.76 277.9 602.65 278.6 602.66 279.3 602.86 280 603.1 280.7 603.24 281.4 603.2 282.1 603.11 282.8 603.1 283.5 603.17 284.2 603.26 284.9 603.37 285.6 603.56 286.3 603.86 287 604.15 287.7 604.25 288.4 604.13 289.1 603.93 289.8 603.88 290.5 604 291.2 604.2 291.9 604.34 292.6 604.39 293.3 604.43 294 604.5 294.7 604.56 295.4 604.52 296.1 604.44 296.8 604.44 297.5 604.56 298.2 604.74 298.9 604.82 299.6 604.75 300.3 604.65 301 604.65 301.7 604.75 302.4 604.87 303.1 604.91 303.8 604.92 304.5 604.98 305.2 605.11 305.9 605.18 306.6 605.15 307.3 605.02 308 604.92 308.7 604.93 309.4 605 310.1 605.06 310.8 605.07 311.5 605.11 312.2 605.22 312.9 605.34 313.6 605.36 314.3 605.25 315 605.1 315.7 605.03 316.4 605.09 317.1 605.2 317.8 605.26 318.5 605.27 319.2 605.29 319.9 605.34 320.6 605.39 321.3 605.37 322 605.31 322.7 605.28 323.4 605.33 324.1 605.42 324.8 605.44 325.5 605.38 326.2 605.31 326.9 605.32 327.6 605.42 328.3 605.51 329 605.54 329.7 605.51 330.4 605.49 330.8 605.5" class="tr"/>
<path d="M98.4 620.72V606.2M99.2 620.6V615M107.3 619.98V611.7M109.8 619.16V585.3M116.8 617.79V606.2M119 617.23V575.3M123.5 616.56V605.9M124.5 616.87V592.5M128 616.8V570.4M132.2 616.53V608.4M134.9 616.91V604.2M136.1 616.86V581.1M139.6 616.55V597.2M144.1 616.66V575.3M145.1 616.03V595.8M148.6 616.37V612.2M153.1 616.01V594.7M154.1 616.7V606.7M162.3 616.66V599.5M171.6 616.09V601.7M180.9 615.21V603.9M190.9 614.43V603.9M199.8 614.55V608M200.6 614.32V605.5M208 609.18V603M208.8 608.59V599.5M214.7 604.81V598M215.5 604.24V594.5M223.2 601.9V592.5M231 601.59V594.7M240.2 601.59V596.2M251.6 601.86V599.7M100.22 620.52V618.23M106 619.51V615.2M107.18 619.99V618.54M108.48 619.72V618.68M109.12 619.51V616.99M109.94 619.07V617.54M110.71 618.42V616.82M118.11 617.7V612.6M120.15 617.08V615.3M122.57 616.53V615.62M128.17 616.84V614.29M130.85 615.96V614.9M135.22 616.99V616.08M135.3 617.01V615.51M140.78 616.52V614.52M143.72 616.88V615.87M143.95 616.76V614.88M144.11 616.65V615.11M144.24 616.56V615.6M148.44 616.36V614.11M148.84 616.42V613.52M149.11 616.49V615.59M151.25 616.54V615.01M151.37 616.45V611.35M153.77 616.48V615.13M154.08 616.69V615.28M154.6 616.87V615.84M158.15 616.02V614.93M159.1 616.18V613.46M161.98 616.97V614.63M163.8 615.26V611.58M164.04 615.27V611.37M166.42 616.99V615.58M167.07 616.97V612.73M167.37 616.93V615.17M167.7 616.88V614.5M168.92 616.66V614.83M169.91 616.2V613.6M176.07 615.99V613.03M180.45 615.32V613.74M181.75 615.12V613.76M181.94 615.15V611.96M183.28 615.83V611.58M183.31 615.84V614.33M184.04 615.91V614.04M184.47 615.69V610.59M184.55 615.63V614.38M186.04 614.75V611.68M187.52 615.49V613.73M189.27 614.99V611.73M189.75 614.69V613.01M192.32 614.44V611.68M192.92 614.61V612.43M195.13 615.48V614.16M197.19 613.38V611.95M197.29 613.36V611.84M202.85 613.02V610.18M205.78 611.57V610.23M108.48 619.72V615.05M108.56 619.7V616.07M108.58 619.69V617.19M109.13 619.51V618.58M110.13 618.92V616.97M110.92 618.24V611.87M111.47 617.92V614.9M113.62 618.54V615.65M114.11 618.45V612.81M114.44 618.27V615.34M114.62 618.15V616.5M115.99 617.59V611.39M117.76 617.84V616.37M118.49 617.5V616.29M118.61 617.43V615.48M120.12 617.08V612.24M121.16 617.09V609.6M121.93 616.8V615.72M122.13 616.7V615.12M122.95 616.47V614.54M123.26 616.5V611.82M126.61 616.36V614.61M129.42 616.47V614.14M129.73 616.27V612.21M131.73 616.32V615.37M132.68 616.63V614.91M133.51 616.63V613.78M134.88 616.91V608.97M136.39 616.69V614.86M137.7 615.87V614.55M138.69 616.1V614.04M139.49 616.52V612.83M139.9 616.61V612.55M144.12 616.64V613.27M144.24 616.56V614.81M145.06 616.05V609.97M145.45 615.95V613.63M147.21 616.36V612.24M149.62 616.69V614.9M151.57 616.31V611.92M152.42 615.86V612.53M152.62 615.85V610.03M155.9 616.31V606.92M156.54 615.98V611.92M156.86 615.9V609.82M158.48 616.07V614.74M158.55 616.08V614.39M159.22 616.2V612.4" class="pk"/>
<text class="lt" x="302" y="483.4" text-anchor="middle">E</text>
<g class="ax">
<path d="M356.8 639.7V451.7H656.3V639.7H356.2" />
<path d="M356.8 634.76h-1.3M356.8 631.42h-1.3M356.8 628.08h-1.3M356.8 624.74h-1.3M356.8 621.4h-3.3M356.8 618.06h-1.3M356.8 614.72h-1.3M356.8 611.38h-1.3M356.8 608.04h-1.3M356.8 604.7h-1.3M356.8 601.36h-1.3M356.8 598.02h-1.3M356.8 594.68h-1.3M356.8 591.34h-1.3M356.8 588h-3.3M356.8 584.66h-1.3M356.8 581.32h-1.3M356.8 577.98h-1.3M356.8 574.64h-1.3M356.8 571.3h-1.3M356.8 567.96h-1.3M356.8 564.62h-1.3M356.8 561.28h-1.3M356.8 557.94h-1.3M356.8 554.6h-3.3M356.8 551.26h-1.3M356.8 547.92h-1.3M356.8 544.58h-1.3M356.8 541.24h-1.3M356.8 537.9h-1.3M356.8 534.56h-1.3M356.8 531.22h-1.3M356.8 527.88h-1.3M356.8 524.54h-1.3M356.8 521.2h-3.3M356.8 517.86h-1.3M356.8 514.52h-1.3M356.8 511.18h-1.3M356.8 507.84h-1.3M356.8 504.5h-1.3M356.8 501.16h-1.3M356.8 497.82h-1.3M356.8 494.48h-1.3M356.8 491.14h-1.3M356.8 487.8h-3.3M356.8 484.46h-1.3M356.8 481.12h-1.3M356.8 477.78h-1.3M356.8 474.44h-1.3M356.8 471.1h-1.3M356.8 467.76h-1.3M356.8 464.42h-1.3M356.8 461.08h-1.3M356.8 457.74h-1.3M356.8 454.4h-3.3" class="tk"/>
<path d="M362.23 639.7v2.5M367.76 639.7v2.5M373.29 639.7v2.5M378.82 639.7v2.5M384.35 639.7v4.9M389.88 639.7v2.5M395.41 639.7v2.5M400.94 639.7v2.5M406.47 639.7v2.5M412 639.7v4.9M417.53 639.7v2.5M423.06 639.7v2.5M428.59 639.7v2.5M434.12 639.7v2.5M439.65 639.7v4.9M445.18 639.7v2.5M450.71 639.7v2.5M456.24 639.7v2.5M461.77 639.7v2.5M467.3 639.7v4.9M472.83 639.7v2.5M478.36 639.7v2.5M483.89 639.7v2.5M489.42 639.7v2.5M494.95 639.7v4.9M500.48 639.7v2.5M506.01 639.7v2.5M511.54 639.7v2.5M517.07 639.7v2.5M522.6 639.7v4.9M528.13 639.7v2.5M533.66 639.7v2.5M539.19 639.7v2.5M544.72 639.7v2.5M550.25 639.7v4.9M555.78 639.7v2.5M561.31 639.7v2.5M566.84 639.7v2.5M572.37 639.7v2.5M577.9 639.7v4.9M583.43 639.7v2.5M588.96 639.7v2.5M594.49 639.7v2.5M600.02 639.7v2.5M605.55 639.7v4.9M611.08 639.7v2.5M616.61 639.7v2.5M622.14 639.7v2.5M627.67 639.7v2.5M633.2 639.7v4.9M638.73 639.7v2.5M644.26 639.7v2.5M649.79 639.7v2.5" class="tk"/>
</g>
<g class="lb">
<text x="353.2" y="623.75" font-size="6.52" text-anchor="end" textLength="6.4" lengthAdjust="spacingAndGlyphs">0.0</text>
<text x="353.2" y="590.35" font-size="6.52" text-anchor="end" textLength="6.4" lengthAdjust="spacingAndGlyphs">1.0</text>
<text x="353.2" y="556.95" font-size="6.52" text-anchor="end" textLength="6.4" lengthAdjust="spacingAndGlyphs">2.0</text>
<text x="353.2" y="523.55" font-size="6.52" text-anchor="end" textLength="6.4" lengthAdjust="spacingAndGlyphs">3.0</text>
<text x="353.2" y="490.15" font-size="6.52" text-anchor="end" textLength="6.4" lengthAdjust="spacingAndGlyphs">4.0</text>
<text x="353.2" y="456.75" font-size="6.52" text-anchor="end" textLength="6.4" lengthAdjust="spacingAndGlyphs">5.0</text>
<text x="384.35" y="650.9" font-size="6.42" text-anchor="middle" textLength="6.2" lengthAdjust="spacingAndGlyphs">2.5</text>
<text x="412" y="650.9" font-size="6.42" text-anchor="middle" textLength="6.2" lengthAdjust="spacingAndGlyphs">5.0</text>
<text x="439.65" y="650.9" font-size="6.42" text-anchor="middle" textLength="6.2" lengthAdjust="spacingAndGlyphs">7.5</text>
<text x="467.3" y="650.9" font-size="6.42" text-anchor="middle" textLength="9.2" lengthAdjust="spacingAndGlyphs">10.0</text>
<text x="494.95" y="650.9" font-size="6.42" text-anchor="middle" textLength="9.2" lengthAdjust="spacingAndGlyphs">12.5</text>
<text x="522.6" y="650.9" font-size="6.42" text-anchor="middle" textLength="9.2" lengthAdjust="spacingAndGlyphs">15.0</text>
<text x="550.25" y="650.9" font-size="6.42" text-anchor="middle" textLength="9.2" lengthAdjust="spacingAndGlyphs">17.5</text>
<text x="577.9" y="650.9" font-size="6.42" text-anchor="middle" textLength="9.2" lengthAdjust="spacingAndGlyphs">20.0</text>
<text x="605.55" y="650.9" font-size="6.42" text-anchor="middle" textLength="9.2" lengthAdjust="spacingAndGlyphs">22.5</text>
<text x="633.2" y="650.9" font-size="6.42" text-anchor="middle" textLength="9.2" lengthAdjust="spacingAndGlyphs">25.0</text>
<text x="651.1" y="650.9" font-size="6.42" text-anchor="middle" textLength="8" lengthAdjust="spacingAndGlyphs">min</text>
<text x="353.2" y="450.3" font-size="7" textLength="26.86" lengthAdjust="spacingAndGlyphs">uV(x1,000)</text>
<text x="357.2" y="459.19" font-size="6.81" textLength="30.4" lengthAdjust="spacingAndGlyphs">Chromatogram</text>
</g>
<rect x="366" y="451.7" width="2.5" height="152" fill="#bdbdbd"/><path class="tr" d="M356.8 621.4H366V451.7M368.5 451.7V604"/><path class="tr" d="M370.5 539.4V590"/><path class="tr2" d="M370.1 587.5V603.5"/>
<path d="M440 623H440.9V623.16H440ZM440.85 623.08H441.75V623.25H440.85ZM441.7 623.27H442.6V623.36H441.7ZM442.55 623.16H443.45V623.27H442.55ZM443.4 622.72H444.3V623.08H443.4ZM444.25 622.68H445.15V623.05H444.25ZM445.1 622.85H446V623.19H445.1ZM445.95 623.06H446.85V623.18H445.95ZM446.8 622.45H447.7V622.91H446.8ZM447.65 622.36H448.55V622.71H447.65ZM448.5 622.43H449.4V622.79H448.5ZM449.35 621.86H450.25V622.78H449.35ZM450.2 622.14H451.1V622.47H450.2ZM451.05 621.6H451.95V622.14H451.05ZM451.9 620.73H452.8V622.13H451.9ZM452.75 621.53H453.65V622.19H452.75ZM453.6 621.3H454.5V621.92H453.6ZM454.45 620.09H455.35V621.53H454.45ZM455.3 621.13H456.2V621.38H455.3ZM456.15 620.7H457.05V621.31H456.15ZM457 620.44H457.9V620.99H457ZM457.85 619.95H458.75V620.71H457.85ZM458.7 620.22H459.6V620.93H458.7ZM459.55 620.2H460.45V621.22H459.55ZM460.4 618.67H461.3V620.83H460.4ZM461.25 618.84H462.15V620.23H461.25ZM462.1 619.23H463V620.27H462.1ZM462.95 618.47H463.85V620.6H462.95ZM463.8 619.22H464.7V620.21H463.8ZM464.65 618.47H465.55V619.31H464.65ZM465.5 618.66H466.4V619.5H465.5ZM466.35 618.47H467.25V620.62H466.35ZM467.2 619.95H468.1V620.85H467.2ZM468.05 617.4H468.95V619.96H468.05ZM468.9 617.35H469.8V619.32H468.9ZM469.75 618H470.65V619.78H469.75ZM470.6 616.82H471.5V620.2H470.6ZM471.45 618.31H472.35V619.77H471.45ZM472.3 617.62H473.2V619.37H472.3ZM473.15 618.76H474.05V619.87H473.15ZM474 619.1H474.9V620.61H474ZM474.85 617.22H475.75V620.62H474.85ZM475.7 618.07H476.6V620.02H475.7ZM476.55 617.75H477.45V619.63H476.55ZM477.4 618.79H478.3V619.64H477.4ZM478.25 618.06H479.15V619.81H478.25ZM479.1 618.21H480V619.95H479.1ZM479.95 616.37H480.85V620.18H479.95ZM480.8 619.52H481.7V620.45H480.8ZM481.65 619.03H482.55V620.38H481.65ZM482.5 619.63H483.4V620.34H482.5ZM483.35 619.37H484.25V620.23H483.35ZM484.2 618.8H485.1V619.98H484.2ZM485.05 618.77H485.95V619.56H485.05ZM485.9 618.19H486.8V619.62H485.9ZM486.75 618.86H487.65V620.19H486.75ZM487.6 619.42H488.5V620.65H487.6ZM488.45 617.62H489.35V620.55H488.45ZM489.3 619.29H490.2V620.28H489.3ZM490.15 619.21H491.05V620.12H490.15ZM491 618.94H491.9V619.97H491ZM491.85 618.81H492.75V619.78H491.85ZM492.7 618.6H493.6V619.75H492.7ZM493.55 619.02H494.45V619.94H493.55ZM494.4 619.36H495.3V620.15H494.4ZM495.25 619.9H496.15V620.28H495.25ZM496.1 619.65H497V620.41H496.1ZM496.95 619.35H497.85V620.38H496.95ZM497.8 619.57H498.7V619.92H497.8ZM498.65 618.47H499.55V619.41H498.65ZM499.5 619.23H500.4V619.54H499.5ZM500.35 619.22H501.25V620.12H500.35ZM501.2 618.12H502.1V620.32H501.2ZM502.05 618.94H502.95V620.01H502.05ZM502.9 618.93H503.8V619.95H502.9ZM503.75 620.06H504.65V620.35H503.75ZM504.6 618.92H505.5V620.41H504.6ZM505.45 618.86H506.35V619.77H505.45ZM506.3 618.41H507.2V619.28H506.3ZM507.15 619.06H508.05V619.67H507.15ZM508 619.53H508.9V620.34H508ZM508.85 619.74H509.75V620.38H508.85ZM509.7 619.09H510.6V620H509.7ZM510.55 619.3H511.45V619.94H510.55ZM511.4 619.84H512.3V620.14H511.4ZM512.25 619.37H513.15V619.94H512.25ZM513.1 617.97H514V619.43H513.1ZM513.95 618.49H514.85V619.28H513.95ZM514.8 619.31H515.7V619.61H514.8ZM515.65 618.74H516.55V619.82H515.65ZM516.5 619.01H517.4V619.7H516.5ZM517.35 619.36H518.25V619.6H517.35ZM518.2 619.28H519.1V619.57H518.2ZM519.05 618.99H519.95V619.36H519.05ZM519.9 618.75H520.8V618.99H519.9ZM520.75 618.34H521.65V618.9H520.75ZM521.6 618.55H522.5V619.13H521.6ZM522.45 618.92H523.35V619.24H522.45ZM523.3 617.8H524.2V619.08H523.3ZM524.15 618.61H525.05V618.99H524.15ZM525 618.58H525.9V619.1H525ZM525.85 618.35H526.75V618.96H525.85ZM526.7 617.54H527.6V618.49H526.7ZM527.55 617.6H528.45V618.1H527.55ZM528.4 617.7H529.3V618.15H528.4ZM529.25 617.84H530.15V618.35H529.25ZM530.1 617.65H531V618.28H530.1ZM530.95 617.67H531.85V618H530.95ZM531.8 617.23H532.7V617.81H531.8ZM532.65 617.12H533.55V617.74H532.65ZM533.5 617.36H534.4V617.55H533.5ZM534.35 616.92H535.25V617.21H534.35ZM535.2 616.68H536.1V616.93H535.2ZM536.05 615.96H536.95V616.8H536.05ZM536.9 615.79H537.8V616.16H536.9ZM537.75 615.3H538.65V615.48H537.75ZM538.6 614.41H539.5V614.61H538.6ZM539.45 613.41H540.35V613.56H539.45ZM540.3 612.29H541.2V612.51H540.3ZM541.15 611.08H542.05V611.56H541.15ZM542 609.51H542.9V610.68H542ZM542.85 609.44H543.75V609.65H542.85ZM543.7 608.14H544.6V608.58H543.7ZM544.55 607.35H545.45V607.72H544.55ZM545.4 605.93H546.3V606.67H545.4ZM546.25 604.5H547.15V605.03H546.25ZM547.1 602.12H548V603.12H547.1ZM547.95 601.5H548.85V602.04H547.95ZM548.8 601.44H549.7V601.89H548.8ZM549.65 601.25H550.55V601.76H549.65ZM550.5 600.64H551.4V601.45H550.5ZM551.35 600.12H552.25V601.17H551.35ZM552.2 600.82H553.1V601.03H552.2ZM553.05 600.67H553.95V600.83H553.05ZM553.9 600.23H554.8V600.44H553.9ZM554.75 599.64H555.65V600.04H554.75ZM555.6 599.52H556.5V599.82H555.6ZM556.45 599.3H557.35V599.59H556.45ZM557.3 598.85H558.2V599.25H557.3ZM558.15 598.82H559.05V599H558.15ZM559 598.49H559.9V598.94H559ZM559.85 598.52H560.75V598.77H559.85ZM560.7 598.05H561.6V598.38H560.7ZM561.55 597.79H562.45V597.99H561.55ZM562.4 597.5H563.3V597.94H562.4ZM563.25 597.02H564.15V597.98H563.25ZM564.1 597.39H565V597.71H564.1ZM564.95 596.97H565.85V597.31H564.95ZM565.8 596.95H566.7V597.25H565.8ZM566.65 597.16H567.55V597.39H566.65ZM567.5 596.96H568.4V597.24H567.5ZM568.35 596.37H569.25V596.84H568.35ZM569.2 596.12H570.1V596.76H569.2ZM570.05 596.65H570.95V597.04H570.05ZM570.9 597.04H571.8V597.29H570.9ZM571.75 597.07H572.65V597.23H571.75ZM572.6 596.88H573.5V597.15H572.6ZM573.45 597.1H574.35V597.33H573.45ZM574.3 597.41H575.2V597.57H574.3ZM575.15 597.29H576.05V597.59H575.15ZM576 597.06H576.9V597.5H576ZM576.85 597.28H577.75V597.55H576.85ZM577.7 597.53H578.6V597.69H577.7ZM578.55 597.48H579.45V597.78H578.55ZM579.4 597.6H580.3V597.85H579.4ZM580.25 597.68H581.15V597.92H580.25ZM581.1 597.47H582V597.85H581.1ZM581.95 597.27H582.85V597.71H581.95ZM582.8 597.17H583.7V597.63H582.8ZM583.65 597.13H584.55V597.64H583.65ZM584.5 597.33H585.4V597.6H584.5ZM585.35 596.91H586.25V597.44H585.35ZM586.2 597.09H587.1V597.31H586.2ZM587.05 596.83H587.95V597.33H587.05ZM587.9 597.03H588.8V597.35H587.9ZM588.75 596.38H589.65V597.24H588.75ZM589.6 596.54H590.5V597.08H589.6ZM590.45 596.83H591.35V597.11H590.45ZM591.3 597.13H592.2V597.3H591.3ZM592.15 597.19H593.05V597.46H592.15ZM593 597.33H593.9V597.56H593ZM593.85 597.28H594.75V597.63H593.85ZM594.7 597.49H595.6V597.68H594.7ZM595.55 597.44H596.45V597.8H595.55ZM596.4 597.57H597.3V598.04H596.4ZM597.25 597.4H598.15V598.24H597.25ZM598.1 597.7H599V598.25H598.1ZM598.95 597.69H599.85V598.23H598.95ZM599.8 598.26H600.7V598.44H599.8ZM600.65 597.6H601.55V598.75H600.65ZM601.5 598.36H602.4V598.78H601.5ZM602.35 598.38H603.25V598.61H602.35ZM603.2 598.53H604.1V598.7H603.2ZM604.05 598.6H604.95V599.12H604.05ZM604.9 598.99H605.8V599.4H604.9ZM605.75 598.35H606.65V599.28H605.75ZM606.6 598.76H607.5V599.18H606.6ZM607.45 599.04H608.35V599.44H607.45ZM608.3 599.5H609.2V599.74H608.3ZM609.15 599.34H610.05V599.71H609.15ZM610 599.39H610.9V599.59H610ZM610.85 599.4H611.75V599.71H610.85ZM611.7 599.81H612.6V600.01H611.7ZM612.55 599.2H613.45V600.07H612.55ZM613.4 599.68H614.3V599.94H613.4ZM614.25 599.76H615.15V599.92H614.25ZM615.1 599.71H616V600.03H615.1ZM615.95 599.76H616.85V600.02H615.95ZM616.8 599.53H617.7V599.93H616.8ZM617.65 599.82H618.55V600.03H617.65ZM618.5 599.9H619.4V600.24H618.5ZM619.35 599.49H620.25V600.29H619.35ZM620.2 599.83H621.1V600.19H620.2ZM621.05 599.97H621.95V600.23H621.05ZM621.9 599.96H622.8V600.37H621.9ZM622.75 599.95H623.65V600.34H622.75ZM623.6 599.97H624.5V600.16H623.6ZM624.45 599.99H625.35V600.18H624.45ZM625.3 600.26H626.2V600.47H625.3ZM626.15 600.41H627.05V600.66H626.15ZM627 600.28H627.9V600.56H627ZM627.85 600.12H628.75V600.44H627.85ZM628.7 600.38H629.6V600.53H628.7ZM629.55 600.34H630.45V600.65H629.55ZM630.4 600.44H631.3V600.6H630.4ZM631.25 600.19H632.15V600.49H631.25ZM632.1 600.36H633V600.57H632.1ZM632.95 600.52H633.85V600.78H632.95ZM633.8 600.15H634.7V600.92H633.8ZM634.65 600.64H635.55V600.89H634.65ZM635.5 600.06H636.4V600.79H635.5ZM636.35 600.52H637.25V600.73H636.35ZM637.2 600.64H638.1V600.73H637.2ZM638.05 600.55H638.95V600.76H638.05ZM638.9 600.62H639.8V600.78H638.9ZM639.75 600.55H640.65V600.78H639.75ZM640.6 600.51H641.5V600.81H640.6ZM641.45 600.76H642.35V600.89H641.45ZM642.3 600.68H643.2V600.91H642.3ZM643.15 600.62H644.05V600.82H643.15ZM644 600.36H644.9V600.69H644ZM644.85 600.44H645.75V600.68H644.85ZM645.7 600.69H646.6V600.78H645.7ZM646.55 600.62H647.45V600.84H646.55ZM647.4 600.54H648.3V600.83H647.4ZM648.25 600.76H649.15V600.82H648.25ZM649.1 600.68H650V600.86H649.1ZM649.95 600.62H650.85V600.85H649.95ZM650.8 600.55H651.7V600.77H650.8ZM651.65 600.6H652.55V600.72H651.65ZM652.5 600.55H653.4V600.75H652.5ZM653.35 600.67H654.25V600.79H653.35ZM654.2 600.76H655.1V600.81H654.2ZM655.05 600.78H655.95V600.83H655.05Z" class="bd"/>
<path d="M369.4 603 370.1 608.09 370.8 612 371.5 614.33 372.2 616.17 372.9 616.75 373.6 617.33 374.3 617.92 375 618.5 375.7 618.68 376.4 618.86 377.1 619.05 377.8 619.23 378.5 619.41 379.2 619.59 379.9 619.77 380.6 619.87 381.3 619.95 382 620.03 382.7 620.11 383.4 620.19 384.1 620.25 384.8 620.31 385.5 620.36 386.2 620.42 386.9 620.48 387.6 620.54 388.3 620.59 389 620.65 389.7 620.71 390.4 620.77 391.1 620.82 391.8 620.88 392.5 620.94 393.2 621 393.9 621.05 394.6 621.11 395.3 621.17 396 621.23 396.7 621.28 397.4 621.32 398.1 621.35 398.8 621.38 399.5 621.41 400.2 621.44 400.9 621.47 401.6 621.5 402.3 621.53 403 621.56 403.7 621.59 404.4 621.62 405.1 621.65 405.8 621.68 406.5 621.71 407.2 621.74 407.9 621.77 408.6 621.8 409.3 621.83 410 621.86 410.7 621.89 411.4 621.92 412.1 621.95 412.8 621.98 413.5 622.01 414.2 622.04 414.9 622.07 415.6 622.1 416.3 622.13 417 622.16 417.7 622.19 418.4 622.22 419.1 622.25 419.8 622.28 420.5 622.31 421.2 622.34 421.9 622.37 422.6 622.41 423.3 622.44 424 622.47 424.7 622.5 425.4 622.54 426.1 622.57 426.8 622.6 427.5 622.63 428.2 622.66 428.9 622.7 429.6 622.73 430.3 622.76 431 622.79 431.7 622.83 432.4 622.86 433.1 622.89 433.8 622.92 434.5 622.95 435.2 622.99 435.9 623.02 436.6 623.05 437.3 623.08 438 623.12 438.7 623.15 439.4 623.18 440.1 623.17 440.8 623.24 441.5 623.34 442.2 623.34 442.9 623.19 443.6 623.05 444.3 623.05 445 623.17 445.7 623.21 446.4 623.06 447.1 622.81 447.8 622.71 448.5 622.79 449.2 622.81 449.9 622.6 450.6 622.28 451.3 622.1 452 622.14 452.7 622.19 453.4 622.01 454.1 621.68 454.8 621.43 455.5 621.37 456.2 621.3 456.9 621.04 457.6 620.75 458.3 620.77 459 621.05 459.7 621.15 460.4 620.75 461.1 620.17 461.8 620.01 462.5 620.32 463.2 620.42 463.9 619.88 464.6 619.16 465.3 619.13 466 619.96 466.7 620.68 467.4 620.49 468.1 619.62 468.8 619.03 469.5 619.24 470.2 619.76 470.9 619.84 471.6 619.38 472.3 619.07 473 619.41 473.7 620.1 474.4 620.46 475.1 620.2 475.8 619.67 476.5 619.35 477.2 619.34 477.9 619.46 478.6 619.56 479.3 619.71 480 619.93 480.7 620.1 481.4 620.13 482.1 620.09 482.8 620.06 483.5 619.97 484.2 619.7 484.9 619.37 485.6 619.28 486.3 619.64 487 620.17 487.7 620.48 488.4 620.42 489.1 620.19 489.8 620.04 490.5 619.95 491.2 619.83 491.9 619.69 492.6 619.67 493.3 619.81 494 620.01 494.7 620.15 495.4 620.26 496.1 620.39 496.8 620.39 497.5 620.11 498.2 619.63 498.9 619.37 499.6 619.6 500.3 620.09 501 620.33 501.7 620.15 502.4 619.91 503.1 620.02 503.8 620.37 504.5 620.45 505.2 620 505.9 619.41 506.6 619.32 507.3 619.8 508 620.34 508.7 620.42 509.4 620.12 510.1 619.92 510.8 620 511.5 620.14 512.2 619.97 512.9 619.54 513.6 619.27 514.3 619.39 515 619.69 515.7 619.82 516.4 619.73 517.1 619.61 517.8 619.59 518.5 619.53 519.2 619.29 519.9 618.99 520.6 618.89 521.3 619.04 522 619.22 522.7 619.21 523.4 619.06 524.1 618.99 524.8 619.08 525.5 619.07 526.2 618.79 526.9 618.37 527.6 618.09 528.3 618.12 529 618.31 529.7 618.36 530.4 618.19 531.1 617.95 531.8 617.81 532.5 617.75 533.2 617.64 533.9 617.4 534.6 617.11 535.3 616.91 536 616.84 536.7 616.31 537.4 615.78 538.1 615.15 538.8 614.37 539.5 613.5 540.2 612.63 540.9 611.82 541.6 611.1 542.3 610.34 543 609.46 543.7 608.58 544.4 607.85 545.1 607.17 545.8 605.94 546.5 604.48 547.2 602.9 547.9 602.06 548.6 601.91 549.3 601.83 550 601.65 550.7 601.37 551.4 601.16 552.1 601.04 552.8 600.91 553.5 600.64 554.2 600.28 554.9 599.99 555.6 599.82 556.3 599.64 557 599.38 557.7 599.1 558.4 598.97 559.1 598.93 559.8 598.79 560.5 598.49 561.2 598.12 561.9 597.93 562.6 597.96 563.3 597.97 564 597.76 564.7 597.41 565.4 597.23 566.1 597.3 566.8 597.4 567.5 597.24 568.2 596.89 568.9 596.74 569.6 596.86 570.3 597.14 571 597.3 571.7 597.24 572.4 597.15 573.1 597.23 573.8 597.44 574.5 597.59 575.2 597.58 575.9 597.51 576.6 597.52 577.3 597.62 578 597.73 578.7 597.79 579.4 597.85 580.1 597.93 580.8 597.89 581.5 597.79 582.2 597.68 582.9 597.63 583.6 597.64 584.3 597.62 585 597.51 585.7 597.37 586.4 597.31 587.1 597.33 587.8 597.36 588.5 597.29 589.2 597.15 589.9 597.04 590.6 597.14 591.3 597.3 592 597.43 592.7 597.53 593.4 597.59 594.1 597.64 594.8 597.69 595.5 597.79 596.2 597.97 596.9 598.17 597.6 598.26 598.3 598.24 599 598.24 599.7 598.41 600.4 598.68 601.1 598.81 601.8 598.72 602.5 598.59 603.2 598.7 603.9 599.04 604.6 599.35 605.3 599.37 606 599.22 606.7 599.19 607.4 599.42 608.1 599.69 608.8 599.76 609.5 599.64 610.2 599.59 610.9 599.73 611.6 599.98 612.3 600.08 613 600 613.7 599.91 614.4 599.94 615.1 600.03 615.8 600.03 616.5 599.95 617.2 599.95 617.9 600.09 618.6 600.26 619.3 600.29 620 600.21 620.7 600.19 621.4 600.29 622.1 600.39 622.8 600.33 623.5 600.18 624.2 600.14 624.9 600.32 625.6 600.57 626.3 600.66 627 600.56 627.7 600.45 628.4 600.48 629.1 600.6 629.8 600.66 630.5 600.58 631.2 600.49 631.9 600.53 632.6 600.69 633.3 600.86 634 600.92 634.7 600.88 635.4 600.8 636.1 600.74 636.8 600.73 637.5 600.74 638.2 600.77 638.9 600.78 639.6 600.78 640.3 600.8 641 600.85 641.7 600.9 642.4 600.91 643.1 600.83 643.8 600.72 644.5 600.67 645.2 600.72 645.9 600.8 646.6 600.84 647.3 600.83 648 600.82 648.7 600.84 649.4 600.87 650.1 600.84 650.8 600.77 651.5 600.72 652.2 600.74 652.9 600.77 653.6 600.8 654.3 600.81 655 600.83 655.7 600.87 656.3 600.8" class="tr"/>
<path d="M462.1 620.41V608.4M469.3 619.41V615.6M475.7 620.04V611.7M477 619.62V605M480.7 620.4V589.2M481.5 620.42V595.8M489.7 620.35V607.2M504.4 620.77V616.7M457.92 621.01V619.77M458.1 621.02V618.67M459.76 621.43V619.49M461.51 620.3V618.64M464.49 619.54V617.66M464.79 619.35V617.15M465.45 619.57V617.86M468.83 619.33V617.43M473.07 619.78V618.3M473.88 620.55V618.87M474.03 620.65V619.22M474.84 620.66V619.62M475.13 620.48V619.56M476.2 619.74V618.77M476.76 619.62V618.27M481.1 620.43V617.43M482.79 620.36V618.24M484.34 619.93V617.61M486.51 620.1V618.18M486.74 620.28V618.06M487.21 620.6V619.04M487.36 620.68V616.83M488.28 620.75V619.16M488.52 620.68V619.42M489.39 620.41V619.22M489.83 620.34V618.73M490.43 620.26V618.81M490.62 620.24V618.9M491.43 620.08V618.99M491.9 619.99V615.69M492.34 619.95V618.74M492.42 619.95V619.02M492.88 620.01V617.91M493.57 620.19V616.39M494.3 620.38V619.44M495.44 620.57V619.57M497.85 620.17V618.53M498.15 619.97V618.51M501.56 620.51V618.79M504.62 620.71V619.6M512.26 620.24V615.94M512.3 620.21V619.14M512.44 620.13V618.2M512.83 619.88V617.35M516.72 619.96V618.04M516.96 619.93V618.36M518.06 619.88V616.85M518.8 619.75V616.92M519.38 619.51V618.36M520.35 619.19V617.06M464.21 619.83V618.31M465.73 619.88V618.36M466.05 620.32V614.8M468.75 619.35V615.83M475.92 619.89V616.94M476.43 619.67V617.81M478.05 619.78V617.46M478.37 619.82V617.23M483.52 620.26V618.94M483.81 620.18V617.42M484.74 619.73V615M485 619.63V616.29M486.75 620.29V619.13M491.29 620.11V617.51M492.45 619.95V615.94" class="pk"/>
<text class="lt" x="630" y="483.8" text-anchor="middle">F</text>
</svg>
</body></html>
